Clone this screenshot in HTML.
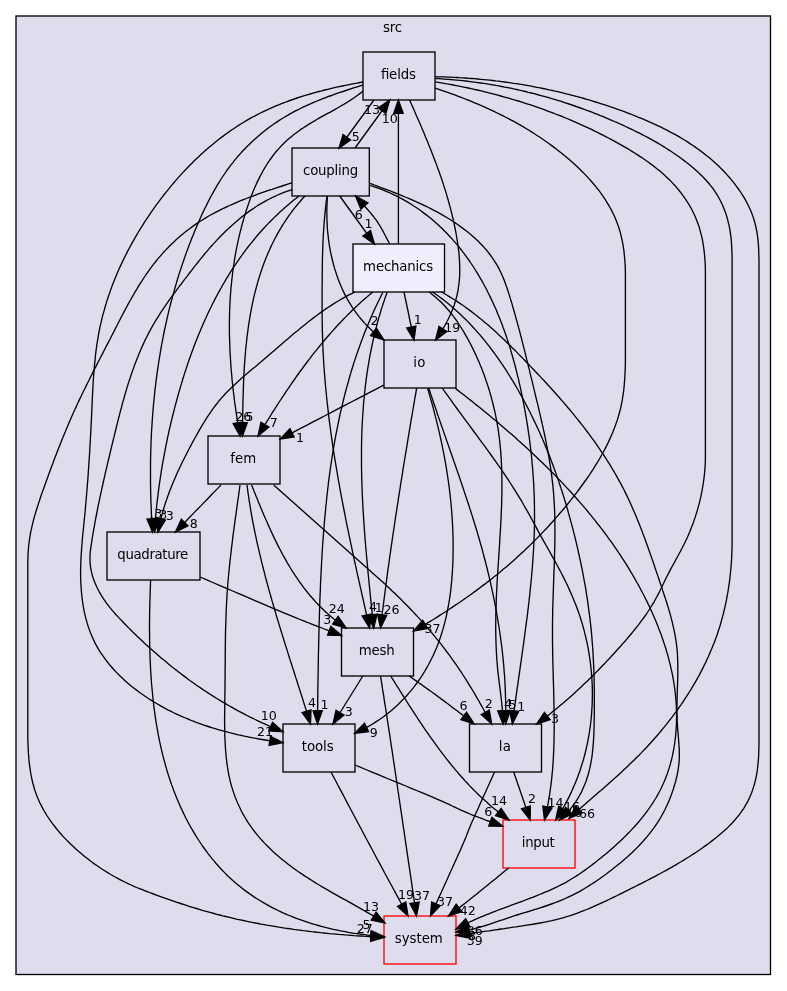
<!DOCTYPE html>
<html><head><meta charset="utf-8"><title>src/mechanics</title>
<style>html,body{margin:0;padding:0;background:#fff}svg{display:block;opacity:0.999;will-change:transform}text{font-family:"DejaVu Sans","Liberation Sans",sans-serif;font-size:13.33px;fill:#000;text-anchor:middle}text.l{font-size:12.6px}</style></head><body>
<svg width="787" height="991" viewBox="0 0 787 991">
<rect x="0" y="0" width="787" height="991" fill="#fff"/>
<rect x="16" y="16" width="754.5" height="958.5" fill="#ddddee" stroke="#000" stroke-width="1.33"/>
<text x="392.5" y="32.0" textLength="19">src</text>
<rect x="363.0" y="52.0" width="72.0" height="48.0" fill="none" stroke="black" stroke-width="1.33"/>
<text x="398.3" y="78.8" textLength="35">fields</text>
<rect x="292.0" y="148.0" width="77.3" height="48.0" fill="none" stroke="black" stroke-width="1.33"/>
<text x="330.6" y="174.8" textLength="55">coupling</text>
<rect x="353.0" y="244.0" width="91.5" height="48.0" fill="#eeeeff" stroke="black" stroke-width="1.33"/>
<text x="398.1" y="270.8" textLength="70">mechanics</text>
<rect x="384.0" y="340.0" width="72.0" height="48.0" fill="none" stroke="black" stroke-width="1.33"/>
<text x="419.3" y="366.8" textLength="12">io</text>
<rect x="208.0" y="436.0" width="72.0" height="48.0" fill="none" stroke="black" stroke-width="1.33"/>
<text x="243.3" y="462.8" textLength="26">fem</text>
<rect x="107.0" y="532.0" width="93.0" height="48.0" fill="none" stroke="black" stroke-width="1.33"/>
<text x="152.8" y="558.8" textLength="71">quadrature</text>
<rect x="341.5" y="628.0" width="72.0" height="48.0" fill="none" stroke="black" stroke-width="1.33"/>
<text x="376.8" y="654.8" textLength="36">mesh</text>
<rect x="283.0" y="724.0" width="72.0" height="48.0" fill="none" stroke="black" stroke-width="1.33"/>
<text x="317.7" y="750.8" textLength="32">tools</text>
<rect x="469.5" y="724.0" width="72.0" height="48.0" fill="none" stroke="black" stroke-width="1.33"/>
<text x="504.8" y="750.8" textLength="12">la</text>
<rect x="503.0" y="820.0" width="72.0" height="48.0" fill="none" stroke="red" stroke-width="1.33"/>
<text x="538.3" y="846.8" textLength="33">input</text>
<rect x="384.0" y="916.0" width="72.0" height="48.0" fill="none" stroke="red" stroke-width="1.33"/>
<text x="418.8" y="942.8" textLength="48">system</text>
<g fill="none" stroke="#000" stroke-width="1.33">
<path d="M374.0,100.0 L371.8,103.0 L369.6,106.0 L367.4,109.0 L365.2,112.0 L363.1,115.0 L360.9,118.0 L358.7,121.0 L356.5,124.0 L354.3,127.0 L352.1,130.0 L349.9,133.0 L347.8,136.0 L346.9,137.2"/>
<path d="M355.0,148.0 L357.2,145.0 L359.4,142.0 L361.5,139.0 L363.7,136.0 L365.9,133.0 L368.1,130.0 L370.2,127.0 L372.4,124.0 L374.6,121.0 L376.8,118.0 L378.9,115.0 L381.1,112.0 L382.0,110.8"/>
<path d="M398.4,244.0 L398.4,235.0 L398.4,226.0 L398.4,217.0 L398.4,208.0 L398.4,199.0 L398.4,190.0 L398.4,181.0 L398.4,172.0 L398.4,163.0 L398.4,154.0 L398.4,145.0 L398.4,136.0 L398.4,127.0 L398.4,118.0 L398.4,113.3"/>
<path d="M409.6,100.0 L410.8,102.8 L412.1,105.6 L413.3,108.3 L414.5,111.1 L415.7,113.9 L416.9,116.7 L418.2,119.5 L419.4,122.3 L420.6,125.1 L421.8,127.9 L423.0,130.7 L424.2,133.6 L425.3,136.4 L426.5,139.2 L427.7,142.1 L428.8,144.9 L430.0,147.7 L431.1,150.6 L432.2,153.4 L433.3,156.3 L434.4,159.2 L435.5,162.0 L436.6,164.9 L437.6,167.8 L438.7,170.7 L439.7,173.5 L440.7,176.4 L441.7,179.3 L442.7,182.2 L443.6,185.1 L444.6,188.1 L445.5,191.0 L446.4,193.9 L447.2,196.8 L448.1,199.8 L448.9,202.7 L449.7,205.7 L450.5,208.6 L451.3,211.6 L452.0,214.6 L452.7,217.5 L453.4,220.5 L454.1,223.5 L454.7,226.5 L455.3,229.5 L455.9,232.5 L456.4,235.5 L456.9,238.5 L457.4,241.6 L457.9,244.6 L458.3,247.6 L458.6,250.7 L459.0,253.7 L459.2,256.8 L459.4,259.8 L459.6,262.8 L459.7,265.9 L459.8,268.9 L459.7,271.9 L459.7,275.0 L459.5,278.0 L459.3,281.0 L458.9,284.0 L458.5,287.0 L458.1,290.0 L457.5,293.0 L456.8,295.9 L456.1,298.9 L455.2,301.8 L454.3,304.8 L453.3,307.7 L452.1,310.5 L450.9,313.4 L449.6,316.2 L448.3,319.0 L446.9,321.8 L445.4,324.5 L443.9,327.2 L442.9,328.9"/>
<path d="M363.0,91.0 L360.7,92.9 L358.3,94.7 L355.9,96.5 L353.4,98.2 L350.9,99.9 L348.4,101.5 L345.8,103.1 L343.2,104.7 L340.5,106.2 L337.9,107.8 L335.2,109.3 L332.5,110.8 L329.9,112.3 L327.2,113.7 L324.5,115.2 L321.8,116.7 L319.1,118.2 L316.4,119.8 L313.8,121.3 L311.2,122.9 L308.6,124.4 L306.0,126.1 L303.4,127.7 L300.9,129.4 L298.5,131.2 L296.0,133.0 L293.6,134.8 L291.3,136.7 L289.0,138.6 L286.8,140.6 L284.6,142.6 L282.5,144.7 L280.4,146.9 L278.4,149.1 L276.4,151.3 L274.5,153.7 L272.7,156.0 L270.9,158.5 L269.2,160.9 L267.5,163.4 L265.9,166.0 L264.3,168.6 L262.8,171.2 L261.4,173.9 L259.9,176.6 L258.6,179.4 L257.2,182.1 L255.9,184.9 L254.7,187.7 L253.5,190.6 L252.3,193.5 L251.2,196.3 L250.1,199.2 L249.1,202.1 L248.1,205.1 L247.1,208.0 L246.1,210.9 L245.2,213.9 L244.3,216.8 L243.5,219.7 L242.6,222.7 L241.8,225.6 L241.1,228.5 L240.3,231.5 L239.6,234.4 L238.9,237.4 L238.2,240.3 L237.6,243.3 L237.0,246.2 L236.4,249.2 L235.8,252.1 L235.3,255.1 L234.8,258.1 L234.3,261.0 L233.9,264.0 L233.4,267.0 L233.0,270.0 L232.6,273.0 L232.3,276.0 L231.9,279.0 L231.6,282.0 L231.3,285.0 L231.0,288.0 L230.8,291.0 L230.5,294.0 L230.3,297.0 L230.1,300.1 L230.0,303.1 L229.8,306.1 L229.7,309.1 L229.6,312.2 L229.5,315.2 L229.5,318.2 L229.4,321.3 L229.4,324.3 L229.4,327.3 L229.4,330.4 L229.4,333.4 L229.5,336.5 L229.6,339.5 L229.7,342.6 L229.8,345.6 L229.9,348.6 L230.0,351.7 L230.2,354.7 L230.4,357.8 L230.6,360.8 L230.8,363.8 L231.0,366.9 L231.2,369.9 L231.5,372.9 L231.8,376.0 L232.0,379.0 L232.3,382.0 L232.7,385.1 L233.0,388.1 L233.3,391.1 L233.7,394.1 L234.1,397.1 L234.4,400.2 L234.8,403.2 L235.3,406.2 L235.7,409.2 L236.1,412.2 L236.6,415.2 L237.0,418.2 L237.5,421.1 L237.8,422.9"/>
<path d="M363.0,85.0 L360.1,85.9 L357.3,86.8 L354.4,87.7 L351.5,88.6 L348.7,89.5 L345.8,90.5 L342.9,91.5 L340.0,92.4 L337.1,93.4 L334.3,94.4 L331.4,95.5 L328.5,96.5 L325.6,97.6 L322.8,98.7 L319.9,99.8 L317.1,101.0 L314.3,102.2 L311.5,103.4 L308.7,104.6 L305.9,105.9 L303.1,107.2 L300.4,108.5 L297.7,109.8 L295.0,111.2 L292.3,112.7 L289.6,114.1 L287.0,115.7 L284.4,117.2 L281.8,118.8 L279.3,120.4 L276.7,122.1 L274.2,123.8 L271.8,125.5 L269.3,127.3 L266.9,129.1 L264.5,131.0 L262.2,132.8 L259.9,134.8 L257.6,136.7 L255.3,138.7 L253.1,140.7 L250.9,142.8 L248.7,144.9 L246.6,147.0 L244.5,149.2 L242.4,151.3 L240.4,153.6 L238.4,155.8 L236.5,158.1 L234.5,160.4 L232.7,162.8 L230.8,165.1 L229.0,167.6 L227.2,170.0 L225.5,172.5 L223.8,175.0 L222.1,177.5 L220.5,180.0 L218.9,182.6 L217.3,185.2 L215.8,187.8 L214.3,190.4 L212.8,193.1 L211.3,195.7 L209.9,198.4 L208.5,201.1 L207.1,203.9 L205.8,206.6 L204.4,209.3 L203.1,212.1 L201.8,214.8 L200.6,217.6 L199.3,220.4 L198.1,223.2 L196.9,226.0 L195.7,228.8 L194.5,231.6 L193.4,234.4 L192.2,237.2 L191.1,240.1 L190.0,242.9 L188.9,245.7 L187.9,248.6 L186.8,251.4 L185.8,254.3 L184.8,257.1 L183.8,260.0 L182.8,262.9 L181.8,265.8 L180.9,268.6 L179.9,271.5 L179.0,274.4 L178.1,277.3 L177.2,280.2 L176.4,283.1 L175.5,286.0 L174.7,288.9 L173.9,291.8 L173.0,294.7 L172.3,297.7 L171.5,300.6 L170.7,303.5 L170.0,306.4 L169.2,309.4 L168.5,312.3 L167.8,315.3 L167.1,318.2 L166.5,321.2 L165.8,324.1 L165.2,327.1 L164.5,330.0 L163.9,333.0 L163.3,336.0 L162.8,338.9 L162.2,341.9 L161.6,344.9 L161.1,347.8 L160.6,350.8 L160.1,353.8 L159.6,356.8 L159.1,359.8 L158.6,362.8 L158.2,365.8 L157.7,368.8 L157.3,371.8 L156.9,374.8 L156.5,377.8 L156.1,380.8 L155.7,383.8 L155.4,386.8 L155.0,389.8 L154.7,392.8 L154.4,395.8 L154.1,398.8 L153.8,401.8 L153.5,404.8 L153.2,407.9 L153.0,410.9 L152.7,413.9 L152.5,416.9 L152.3,420.0 L152.1,423.0 L151.9,426.0 L151.7,429.0 L151.5,432.1 L151.4,435.1 L151.2,438.1 L151.1,441.1 L151.0,444.2 L150.9,447.2 L150.8,450.2 L150.7,453.3 L150.6,456.3 L150.6,459.3 L150.5,462.4 L150.5,465.4 L150.5,468.4 L150.5,471.5 L150.5,474.5 L150.5,477.5 L150.5,480.6 L150.5,483.6 L150.6,486.6 L150.6,489.6 L150.7,492.7 L150.8,495.7 L150.8,498.7 L150.9,501.8 L151.1,504.8 L151.2,507.8 L151.3,510.8 L151.4,513.9 L151.6,516.9 L151.7,518.7"/>
<path d="M363.0,82.0 L360.1,82.5 L357.1,83.1 L354.2,83.6 L351.2,84.2 L348.3,84.8 L345.3,85.4 L342.4,86.0 L339.4,86.6 L336.5,87.2 L333.5,87.9 L330.6,88.6 L327.6,89.3 L324.7,90.0 L321.8,90.8 L318.8,91.5 L315.9,92.3 L313.0,93.1 L310.1,94.0 L307.2,94.8 L304.3,95.7 L301.4,96.6 L298.5,97.5 L295.6,98.5 L292.8,99.5 L289.9,100.5 L287.1,101.5 L284.3,102.6 L281.5,103.7 L278.7,104.8 L275.9,105.9 L273.1,107.1 L270.3,108.3 L267.6,109.6 L264.9,110.8 L262.2,112.2 L259.5,113.5 L256.8,114.9 L254.2,116.3 L251.5,117.7 L248.9,119.2 L246.3,120.7 L243.7,122.2 L241.2,123.8 L238.6,125.4 L236.1,127.0 L233.6,128.7 L231.1,130.3 L228.7,132.1 L226.2,133.8 L223.8,135.6 L221.4,137.4 L219.0,139.2 L216.7,141.1 L214.3,143.0 L212.0,144.9 L209.7,146.8 L207.4,148.8 L205.1,150.8 L202.9,152.8 L200.6,154.8 L198.4,156.9 L196.2,158.9 L194.0,161.0 L191.9,163.2 L189.8,165.3 L187.6,167.5 L185.6,169.7 L183.5,171.9 L181.4,174.1 L179.4,176.4 L177.4,178.6 L175.4,180.9 L173.4,183.2 L171.4,185.6 L169.5,187.9 L167.6,190.3 L165.7,192.6 L163.8,195.0 L162.0,197.4 L160.1,199.8 L158.3,202.3 L156.5,204.7 L154.8,207.2 L153.0,209.7 L151.3,212.1 L149.6,214.7 L147.9,217.2 L146.2,219.7 L144.5,222.2 L142.9,224.8 L141.3,227.3 L139.7,229.9 L138.1,232.5 L136.6,235.1 L135.1,237.7 L133.6,240.3 L132.1,242.9 L130.7,245.6 L129.2,248.2 L127.8,250.9 L126.5,253.6 L125.1,256.2 L123.8,258.9 L122.5,261.6 L121.2,264.4 L119.9,267.1 L118.7,269.8 L117.5,272.6 L116.4,275.3 L115.2,278.1 L114.1,280.9 L113.0,283.6 L111.9,286.4 L110.9,289.3 L109.9,292.1 L108.9,294.9 L108.0,297.7 L107.0,300.6 L106.2,303.4 L105.3,306.3 L104.5,309.2 L103.7,312.1 L102.9,314.9 L102.1,317.8 L101.4,320.8 L100.8,323.7 L100.1,326.6 L99.5,329.5 L98.9,332.5 L98.4,335.4 L97.9,338.4 L97.4,341.4 L96.9,344.4 L96.5,347.3 L96.1,350.3 L95.7,353.3 L95.4,356.3 L95.1,359.4 L94.8,362.4 L94.5,365.4 L94.2,368.4 L94.0,371.4 L93.7,374.5 L93.5,377.5 L93.3,380.5 L93.1,383.6 L93.0,386.6 L92.8,389.7 L92.6,392.7 L92.5,395.7 L92.3,398.8 L92.2,401.8 L92.1,404.8 L91.9,407.9 L91.8,410.9 L91.7,413.9 L91.5,416.9 L91.4,420.0 L91.2,423.0 L91.1,426.0 L90.9,429.0 L90.8,432.0 L90.6,435.0 L90.4,438.0 L90.3,441.0 L90.1,444.0 L89.9,447.0 L89.8,450.0 L89.6,453.0 L89.4,456.0 L89.2,459.0 L89.0,462.0 L88.8,465.0 L88.6,467.9 L88.4,470.9 L88.2,473.9 L88.0,476.9 L87.8,479.9 L87.5,482.9 L87.3,485.9 L87.1,488.8 L86.8,491.8 L86.6,494.8 L86.3,497.8 L86.1,500.8 L85.8,503.8 L85.5,506.8 L85.3,509.8 L85.0,512.7 L84.7,515.7 L84.4,518.7 L84.1,521.7 L83.8,524.7 L83.5,527.7 L83.2,530.7 L82.9,533.8 L82.6,536.8 L82.3,539.8 L82.1,542.8 L81.8,545.8 L81.6,548.8 L81.4,551.9 L81.2,554.9 L81.0,557.9 L80.9,561.0 L80.8,564.0 L80.7,567.0 L80.6,570.1 L80.6,573.2 L80.6,576.2 L80.7,579.3 L80.8,582.3 L81.0,585.4 L81.2,588.4 L81.4,591.4 L81.7,594.5 L82.0,597.5 L82.4,600.5 L82.8,603.5 L83.3,606.5 L83.8,609.4 L84.4,612.4 L85.1,615.3 L85.8,618.2 L86.6,621.1 L87.4,623.9 L88.3,626.8 L89.3,629.6 L90.3,632.3 L91.4,635.1 L92.6,637.8 L93.8,640.4 L95.1,643.1 L96.5,645.7 L98.0,648.3 L99.5,650.8 L101.1,653.3 L102.8,655.7 L104.5,658.2 L106.3,660.5 L108.1,662.9 L110.0,665.2 L112.0,667.5 L114.0,669.7 L116.0,671.9 L118.1,674.1 L120.3,676.2 L122.5,678.3 L124.7,680.4 L127.0,682.4 L129.3,684.4 L131.7,686.4 L134.1,688.3 L136.5,690.1 L139.0,692.0 L141.5,693.8 L144.0,695.5 L146.6,697.3 L149.2,699.0 L151.8,700.6 L154.4,702.2 L157.1,703.8 L159.7,705.4 L162.4,706.9 L165.1,708.3 L167.8,709.8 L170.6,711.1 L173.3,712.5 L176.0,713.8 L178.8,715.1 L181.5,716.3 L184.3,717.5 L187.1,718.7 L189.9,719.9 L192.7,721.0 L195.5,722.0 L198.3,723.1 L201.1,724.1 L203.9,725.1 L206.7,726.0 L209.6,727.0 L212.4,727.9 L215.3,728.7 L218.2,729.6 L221.0,730.4 L223.9,731.2 L226.8,731.9 L229.7,732.7 L232.6,733.4 L235.5,734.1 L238.4,734.8 L241.3,735.4 L244.3,736.1 L247.2,736.7 L250.1,737.3 L253.1,737.9 L256.1,738.4 L259.0,739.0 L262.0,739.5 L265.0,740.0 L268.0,740.5 L269.8,740.8"/>
<path d="M435.2,88.1 L438.1,89.1 L441.0,90.1 L443.9,91.1 L446.8,92.1 L449.7,93.1 L452.6,94.2 L455.5,95.2 L458.3,96.3 L461.2,97.4 L464.0,98.5 L466.8,99.6 L469.6,100.7 L472.4,101.9 L475.2,103.1 L478.0,104.2 L480.8,105.4 L483.6,106.6 L486.3,107.9 L489.1,109.1 L491.8,110.4 L494.5,111.7 L497.3,113.0 L500.0,114.3 L502.7,115.7 L505.3,117.0 L508.0,118.4 L510.7,119.8 L513.3,121.2 L516.0,122.7 L518.6,124.2 L521.2,125.7 L523.8,127.2 L526.4,128.7 L529.0,130.3 L531.5,131.9 L534.1,133.5 L536.6,135.2 L539.2,136.8 L541.7,138.5 L544.2,140.2 L546.7,142.0 L549.2,143.8 L551.7,145.6 L554.1,147.4 L556.6,149.3 L559.0,151.2 L561.4,153.1 L563.8,155.0 L566.2,157.0 L568.6,159.0 L570.9,161.1 L573.3,163.1 L575.6,165.2 L577.8,167.3 L580.1,169.5 L582.3,171.7 L584.5,173.9 L586.6,176.1 L588.7,178.4 L590.8,180.7 L592.8,183.0 L594.8,185.4 L596.7,187.8 L598.6,190.2 L600.5,192.7 L602.2,195.1 L604.0,197.7 L605.6,200.2 L607.2,202.8 L608.8,205.4 L610.3,208.0 L611.7,210.6 L613.0,213.3 L614.3,216.0 L615.5,218.8 L616.6,221.6 L617.7,224.4 L618.7,227.2 L619.6,230.1 L620.4,232.9 L621.1,235.9 L621.8,238.8 L622.4,241.7 L623.0,244.7 L623.4,247.7 L623.9,250.7 L624.2,253.7 L624.5,256.8 L624.8,259.8 L625.0,262.8 L625.2,265.9 L625.3,268.9 L625.4,272.0 L625.4,360.0 L625.4,363.1 L625.3,366.1 L625.2,369.2 L625.1,372.2 L624.9,375.3 L624.8,378.3 L624.5,381.3 L624.3,384.4 L624.0,387.4 L623.7,390.4 L623.3,393.4 L622.8,396.4 L622.4,399.4 L621.8,402.4 L621.2,405.4 L620.6,408.4 L619.8,411.3 L619.0,414.2 L618.2,417.1 L617.3,420.0 L616.3,422.9 L615.3,425.8 L614.2,428.6 L613.1,431.5 L611.9,434.3 L610.7,437.1 L609.4,439.9 L608.1,442.7 L606.8,445.4 L605.4,448.1 L604.0,450.8 L602.5,453.5 L601.0,456.2 L599.5,458.9 L597.9,461.5 L596.3,464.1 L594.7,466.7 L593.1,469.3 L591.4,471.9 L589.7,474.5 L588.0,477.0 L586.2,479.5 L584.4,482.0 L582.6,484.5 L580.8,487.0 L579.0,489.5 L577.2,491.9 L575.3,494.4 L573.4,496.8 L571.5,499.2 L569.6,501.6 L567.7,504.0 L565.8,506.3 L563.8,508.7 L561.9,511.0 L559.9,513.3 L557.9,515.6 L555.9,517.9 L553.9,520.2 L551.9,522.5 L549.8,524.7 L547.8,527.0 L545.7,529.2 L543.6,531.4 L541.5,533.6 L539.4,535.8 L537.3,537.9 L535.1,540.1 L533.0,542.2 L530.8,544.4 L528.7,546.5 L526.5,548.6 L524.3,550.7 L522.0,552.7 L519.8,554.8 L517.6,556.8 L515.3,558.9 L513.1,560.9 L510.8,562.9 L508.5,564.9 L506.2,566.9 L503.8,568.8 L501.5,570.8 L499.2,572.7 L496.8,574.7 L494.4,576.6 L492.1,578.5 L489.7,580.4 L487.2,582.2 L484.8,584.1 L482.4,585.9 L479.9,587.8 L477.5,589.6 L475.0,591.4 L472.6,593.2 L470.1,595.0 L467.6,596.8 L465.1,598.5 L462.6,600.3 L460.1,602.0 L457.6,603.7 L455.0,605.4 L452.5,607.1 L450.0,608.8 L447.4,610.5 L444.9,612.2 L442.3,613.8 L439.7,615.4 L437.1,617.1 L434.5,618.7 L432.0,620.3 L429.4,621.8 L426.7,623.4 L425.1,624.3"/>
<path d="M435.2,81.8 L438.2,82.3 L441.2,82.8 L444.2,83.3 L447.2,83.9 L450.2,84.4 L453.2,85.0 L456.2,85.6 L459.2,86.2 L462.2,86.8 L465.2,87.4 L468.2,88.0 L471.2,88.7 L474.1,89.3 L477.1,90.0 L480.1,90.7 L483.0,91.4 L486.0,92.1 L489.0,92.9 L491.9,93.6 L494.9,94.4 L497.8,95.2 L500.7,96.0 L503.7,96.8 L506.6,97.6 L509.5,98.4 L512.4,99.3 L515.4,100.2 L518.3,101.0 L521.2,101.9 L524.1,102.9 L527.0,103.8 L529.9,104.7 L532.7,105.7 L535.6,106.7 L538.5,107.7 L541.4,108.7 L544.2,109.7 L547.1,110.8 L549.9,111.8 L552.8,112.9 L555.6,114.0 L558.5,115.1 L561.3,116.2 L564.1,117.4 L566.9,118.5 L569.7,119.7 L572.5,120.9 L575.3,122.1 L578.1,123.3 L580.9,124.6 L583.7,125.8 L586.5,127.1 L589.2,128.4 L592.0,129.7 L594.7,131.1 L597.5,132.4 L600.2,133.8 L602.9,135.2 L605.7,136.6 L608.4,138.0 L611.1,139.4 L613.8,140.9 L616.5,142.4 L619.2,143.9 L621.8,145.4 L624.5,146.9 L627.2,148.4 L629.8,150.0 L632.4,151.6 L635.0,153.2 L637.6,154.9 L640.2,156.6 L642.8,158.3 L645.3,160.0 L647.8,161.8 L650.3,163.6 L652.7,165.4 L655.1,167.3 L657.5,169.2 L659.9,171.1 L662.2,173.1 L664.4,175.1 L666.7,177.2 L668.9,179.3 L671.0,181.4 L673.1,183.6 L675.1,185.8 L677.1,188.1 L679.1,190.5 L681.0,192.9 L682.8,195.3 L684.6,197.8 L686.3,200.4 L688.0,203.0 L689.6,205.6 L691.1,208.3 L692.5,211.0 L693.9,213.7 L695.1,216.5 L696.3,219.3 L697.4,222.2 L698.5,225.0 L699.4,227.9 L700.2,230.8 L701.0,233.8 L701.7,236.7 L702.4,239.7 L702.9,242.7 L703.4,245.7 L703.8,248.7 L704.2,251.7 L704.5,254.8 L704.8,257.8 L705.0,260.8 L705.2,263.9 L705.3,266.9 L705.4,270.0 L705.4,458.4 L705.3,461.4 L705.2,464.5 L705.0,467.5 L704.8,470.5 L704.5,473.5 L704.2,476.5 L703.8,479.5 L703.4,482.5 L702.9,485.5 L702.4,488.5 L701.9,491.4 L701.3,494.4 L700.7,497.4 L700.0,500.3 L699.3,503.2 L698.5,506.2 L697.7,509.1 L696.8,512.0 L695.9,514.9 L695.0,517.8 L694.0,520.6 L693.0,523.5 L691.9,526.3 L690.8,529.1 L689.7,531.9 L688.5,534.7 L687.3,537.5 L686.0,540.3 L684.7,543.0 L683.3,545.8 L681.9,548.5 L680.5,551.2 L679.1,553.8 L677.6,556.5 L676.1,559.2 L674.7,561.9 L673.2,564.5 L671.7,567.2 L670.3,569.9 L668.9,572.6 L667.5,575.3 L666.1,578.0 L664.8,580.8 L663.5,583.5 L662.2,586.2 L660.8,589.0 L659.5,591.7 L658.1,594.4 L656.7,597.0 L655.2,599.7 L653.8,602.3 L652.2,604.9 L650.6,607.5 L649.0,610.0 L647.4,612.5 L645.7,615.0 L643.9,617.5 L642.1,619.9 L640.3,622.3 L638.5,624.8 L636.6,627.1 L634.7,629.5 L632.8,631.9 L630.9,634.2 L628.9,636.5 L627.0,638.8 L625.0,641.2 L623.0,643.4 L621.0,645.7 L618.9,648.0 L616.9,650.3 L614.9,652.5 L612.8,654.8 L610.8,657.0 L608.7,659.2 L606.6,661.4 L604.5,663.7 L602.4,665.8 L600.3,668.0 L598.2,670.2 L596.0,672.4 L593.9,674.5 L591.8,676.7 L589.6,678.8 L587.4,680.9 L585.2,683.0 L583.0,685.1 L580.8,687.2 L578.6,689.3 L576.4,691.3 L574.1,693.4 L571.9,695.4 L569.6,697.4 L567.3,699.4 L565.0,701.4 L562.7,703.4 L560.4,705.3 L558.1,707.3 L555.8,709.2 L553.4,711.1 L551.1,713.0 L548.7,714.9 L547.2,716.0"/>
<path d="M435.2,78.5 L438.3,78.7 L441.3,78.9 L444.4,79.1 L447.5,79.3 L450.5,79.5 L453.6,79.8 L456.6,80.1 L459.6,80.4 L462.7,80.7 L465.7,81.0 L468.7,81.4 L471.8,81.8 L474.8,82.2 L477.8,82.6 L480.8,83.0 L483.8,83.4 L486.8,83.9 L489.8,84.4 L492.8,84.9 L495.8,85.4 L498.8,85.9 L501.7,86.5 L504.7,87.1 L507.7,87.6 L510.7,88.2 L513.6,88.9 L516.6,89.5 L519.5,90.2 L522.5,90.8 L525.4,91.5 L528.4,92.3 L531.3,93.0 L534.2,93.7 L537.1,94.5 L540.1,95.3 L543.0,96.1 L545.9,96.9 L548.8,97.7 L551.7,98.6 L554.6,99.4 L557.5,100.3 L560.4,101.2 L563.3,102.1 L566.2,103.1 L569.0,104.0 L571.9,105.0 L574.8,106.0 L577.6,107.0 L580.5,108.0 L583.4,109.0 L586.2,110.1 L589.1,111.1 L591.9,112.2 L594.7,113.3 L597.6,114.4 L600.4,115.6 L603.2,116.7 L606.0,117.9 L608.8,119.1 L611.7,120.3 L614.5,121.5 L617.3,122.7 L620.1,124.0 L622.8,125.2 L625.6,126.5 L628.4,127.8 L631.2,129.1 L634.0,130.5 L636.7,131.8 L639.5,133.2 L642.2,134.6 L644.9,136.0 L647.6,137.4 L650.3,138.9 L653.0,140.4 L655.7,141.9 L658.3,143.4 L661.0,145.0 L663.6,146.6 L666.2,148.2 L668.7,149.9 L671.3,151.5 L673.8,153.2 L676.4,155.0 L678.9,156.7 L681.3,158.5 L683.8,160.4 L686.2,162.2 L688.6,164.1 L690.9,166.1 L693.3,168.1 L695.6,170.1 L697.9,172.1 L700.1,174.2 L702.3,176.3 L704.4,178.5 L706.5,180.7 L708.5,183.0 L710.4,185.3 L712.3,187.7 L714.0,190.1 L715.7,192.6 L717.3,195.1 L718.8,197.7 L720.2,200.3 L721.5,203.0 L722.8,205.7 L723.9,208.5 L725.0,211.3 L726.0,214.1 L726.9,217.0 L727.7,219.9 L728.4,222.8 L729.1,225.7 L729.7,228.7 L730.2,231.7 L730.6,234.7 L731.0,237.7 L731.3,240.8 L731.5,243.8 L731.7,246.8 L731.8,249.9 L732.0,253.0 L732.0,256.0 L732.1,259.1 L732.1,262.1 L732.1,265.2 L732.1,545.0 L732.0,548.0 L731.9,551.1 L731.8,554.1 L731.7,557.1 L731.5,560.1 L731.3,563.2 L731.1,566.2 L730.8,569.2 L730.5,572.2 L730.2,575.2 L729.9,578.3 L729.5,581.3 L729.1,584.3 L728.6,587.3 L728.2,590.2 L727.7,593.2 L727.1,596.2 L726.6,599.2 L726.0,602.1 L725.4,605.1 L724.7,608.1 L724.0,611.0 L723.3,613.9 L722.5,616.9 L721.7,619.8 L720.9,622.7 L720.1,625.6 L719.2,628.5 L718.2,631.3 L717.3,634.2 L716.3,637.0 L715.2,639.9 L714.2,642.7 L713.0,645.5 L711.9,648.3 L710.7,651.1 L709.5,653.9 L708.3,656.7 L707.0,659.4 L705.8,662.2 L704.4,664.9 L703.1,667.6 L701.7,670.4 L700.3,673.1 L698.9,675.7 L697.4,678.4 L695.9,681.1 L694.4,683.7 L692.8,686.3 L691.3,688.9 L689.7,691.5 L688.0,694.1 L686.4,696.7 L684.7,699.2 L683.0,701.8 L681.3,704.3 L679.5,706.8 L677.8,709.3 L676.0,711.8 L674.2,714.2 L672.4,716.7 L670.5,719.1 L668.6,721.5 L666.8,723.9 L664.8,726.3 L662.9,728.7 L661.0,731.0 L659.0,733.4 L657.0,735.7 L655.0,738.0 L653.0,740.3 L651.0,742.5 L648.9,744.8 L646.9,747.0 L644.8,749.2 L642.7,751.4 L640.6,753.6 L638.5,755.7 L636.3,757.8 L634.2,760.0 L632.0,762.1 L629.9,764.1 L627.7,766.2 L625.5,768.3 L623.3,770.3 L621.1,772.4 L618.9,774.4 L616.7,776.4 L614.4,778.4 L612.2,780.4 L609.9,782.4 L607.7,784.4 L605.4,786.4 L603.2,788.4 L600.9,790.4 L598.6,792.3 L596.4,794.3 L594.1,796.3 L591.8,798.3 L589.5,800.3 L587.2,802.3 L585.0,804.3 L582.7,806.3 L580.4,808.3 L578.9,809.6"/>
<path d="M435.2,76.7 L438.3,76.8 L441.3,76.9 L444.4,76.9 L447.4,77.1 L450.5,77.2 L453.5,77.3 L456.5,77.5 L459.6,77.7 L462.6,77.8 L465.6,78.0 L468.6,78.3 L471.7,78.5 L474.7,78.7 L477.7,79.0 L480.7,79.3 L483.7,79.6 L486.7,79.9 L489.7,80.2 L492.7,80.5 L495.7,80.9 L498.7,81.2 L501.7,81.6 L504.6,82.0 L507.6,82.4 L510.6,82.8 L513.6,83.3 L516.5,83.7 L519.5,84.2 L522.5,84.7 L525.4,85.2 L528.4,85.7 L531.3,86.2 L534.3,86.8 L537.2,87.4 L540.2,87.9 L543.1,88.5 L546.1,89.1 L549.0,89.8 L551.9,90.4 L554.9,91.1 L557.8,91.7 L560.7,92.4 L563.6,93.1 L566.5,93.9 L569.5,94.6 L572.4,95.4 L575.3,96.1 L578.2,96.9 L581.1,97.7 L584.0,98.5 L586.9,99.4 L589.8,100.2 L592.7,101.1 L595.6,102.0 L598.5,102.9 L601.4,103.8 L604.2,104.7 L607.1,105.7 L610.0,106.7 L612.9,107.6 L615.8,108.6 L618.6,109.7 L621.5,110.7 L624.4,111.7 L627.2,112.8 L630.1,113.9 L632.9,115.0 L635.8,116.1 L638.6,117.3 L641.5,118.4 L644.3,119.6 L647.1,120.8 L649.9,122.1 L652.7,123.3 L655.5,124.6 L658.2,125.9 L661.0,127.2 L663.7,128.6 L666.4,129.9 L669.1,131.3 L671.8,132.8 L674.5,134.2 L677.1,135.7 L679.7,137.2 L682.4,138.8 L684.9,140.3 L687.5,141.9 L690.0,143.6 L692.5,145.2 L695.0,146.9 L697.5,148.7 L699.9,150.4 L702.3,152.2 L704.7,154.1 L707.1,155.9 L709.4,157.8 L711.7,159.8 L713.9,161.8 L716.1,163.8 L718.3,165.8 L720.5,167.9 L722.6,170.0 L724.7,172.2 L726.7,174.4 L728.7,176.7 L730.7,178.9 L732.6,181.3 L734.5,183.7 L736.3,186.1 L738.1,188.5 L739.9,191.0 L741.5,193.5 L743.2,196.1 L744.7,198.7 L746.2,201.4 L747.6,204.0 L748.9,206.7 L750.2,209.5 L751.4,212.2 L752.4,215.0 L753.4,217.9 L754.3,220.7 L755.1,223.6 L755.8,226.5 L756.4,229.4 L757.0,232.4 L757.4,235.4 L757.8,238.4 L758.1,241.4 L758.4,244.4 L758.6,247.4 L758.7,250.4 L758.8,253.5 L758.9,256.5 L759.0,259.6 L759.0,262.6 L759.0,732.0 L759.0,735.1 L759.0,738.1 L759.0,741.2 L759.0,744.3 L758.9,747.4 L758.8,750.4 L758.7,753.5 L758.6,756.6 L758.4,759.6 L758.1,762.7 L757.8,765.7 L757.5,768.7 L757.1,771.7 L756.6,774.7 L756.0,777.7 L755.3,780.7 L754.6,783.6 L753.7,786.5 L752.8,789.4 L751.8,792.2 L750.7,795.0 L749.5,797.7 L748.2,800.4 L746.8,803.1 L745.3,805.7 L743.8,808.3 L742.1,810.7 L740.4,813.2 L738.5,815.6 L736.6,817.9 L734.7,820.2 L732.6,822.5 L730.5,824.7 L728.4,826.9 L726.2,829.0 L723.9,831.1 L721.6,833.1 L719.3,835.1 L716.9,837.1 L714.5,839.0 L712.0,840.9 L709.6,842.8 L707.1,844.6 L704.5,846.4 L702.0,848.2 L699.5,850.0 L696.9,851.7 L694.4,853.4 L691.8,855.0 L689.2,856.7 L686.6,858.3 L684.1,859.9 L681.5,861.5 L678.8,863.0 L676.2,864.6 L673.6,866.1 L671.0,867.6 L668.3,869.1 L665.7,870.6 L663.0,872.0 L660.4,873.5 L657.7,874.9 L655.1,876.3 L652.4,877.7 L649.7,879.1 L647.0,880.5 L644.3,881.9 L641.6,883.3 L638.9,884.6 L636.2,886.0 L633.5,887.4 L630.8,888.7 L628.1,890.1 L625.4,891.4 L622.6,892.8 L619.9,894.1 L617.2,895.5 L614.4,896.8 L611.7,898.2 L608.9,899.5 L606.2,900.8 L603.4,902.1 L600.6,903.4 L597.8,904.7 L595.1,905.9 L592.3,907.1 L589.5,908.3 L586.7,909.5 L583.8,910.6 L581.0,911.7 L578.2,912.8 L575.3,913.9 L572.5,914.8 L569.6,915.8 L566.7,916.7 L563.8,917.6 L560.9,918.4 L558.0,919.2 L555.1,919.9 L552.1,920.6 L549.2,921.2 L546.2,921.8 L543.2,922.4 L540.2,923.0 L537.2,923.5 L534.3,924.0 L531.3,924.5 L528.2,924.9 L525.2,925.4 L522.2,925.9 L519.2,926.3 L516.2,926.8 L513.2,927.2 L510.2,927.7 L507.2,928.1 L504.2,928.6 L501.1,929.0 L498.1,929.5 L495.1,929.9 L492.1,930.3 L489.1,930.8 L486.1,931.2 L483.1,931.6 L480.0,932.1 L477.0,932.5 L474.0,932.9 L471.0,933.4 L469.2,933.6"/>
<path d="M339.7,196.0 L341.9,199.0 L344.1,202.0 L346.2,205.0 L348.4,208.0 L350.6,211.0 L352.8,214.0 L354.9,217.0 L357.1,220.0 L359.3,223.0 L361.4,226.0 L363.6,229.0 L365.8,232.0 L366.7,233.2"/>
<path d="M389.8,244.0 L389.0,242.5 L388.2,241.1 L387.4,239.6 L386.6,238.2 L385.9,236.7 L385.1,235.2 L384.3,233.8 L383.6,232.3 L382.8,230.8 L382.0,229.4 L381.1,227.9 L380.3,226.5 L379.4,225.0 L378.5,223.6 L377.6,222.1 L376.6,220.7 L375.5,219.1 L374.3,217.6 L373.1,216.0 L371.8,214.5 L370.5,212.9 L369.2,211.4 L367.8,209.8 L366.5,208.3 L365.1,206.8 L364.4,205.9"/>
<path d="M327.5,196.0 L327.3,199.1 L327.1,202.1 L327.0,205.2 L326.9,208.3 L326.8,211.4 L326.9,214.5 L326.9,217.6 L327.0,220.7 L327.1,223.9 L327.3,227.0 L327.5,230.1 L327.8,233.2 L328.2,236.3 L328.5,239.5 L329.0,242.6 L329.4,245.7 L330.0,248.8 L330.5,251.9 L331.2,254.9 L331.9,258.0 L332.6,261.0 L333.4,264.1 L334.2,267.1 L335.1,270.1 L336.1,273.0 L337.1,276.0 L338.1,278.9 L339.2,281.8 L340.4,284.7 L341.6,287.5 L342.9,290.4 L344.2,293.1 L345.6,295.9 L347.1,298.6 L348.6,301.3 L350.2,303.9 L351.8,306.5 L353.5,309.1 L355.3,311.6 L357.1,314.1 L359.0,316.6 L361.0,319.0 L363.0,321.3 L365.0,323.6 L367.2,325.8 L369.4,328.0 L371.7,330.2 L373.5,331.8"/>
<path d="M327.0,196.0 L326.6,199.0 L326.2,202.0 L325.8,205.0 L325.5,208.0 L325.2,211.1 L324.9,214.1 L324.6,217.1 L324.4,220.1 L324.1,223.1 L323.9,226.2 L323.7,229.2 L323.5,232.2 L323.3,235.2 L323.2,238.2 L323.0,241.3 L322.9,244.3 L322.8,247.3 L322.7,250.4 L322.6,253.4 L322.5,256.4 L322.4,259.4 L322.4,262.5 L322.3,265.5 L322.3,268.5 L322.3,271.6 L322.2,274.6 L322.2,277.6 L322.2,280.7 L322.2,283.7 L322.1,286.7 L322.1,289.8 L322.1,292.8 L322.1,295.8 L322.1,298.9 L322.1,301.9 L322.1,304.9 L322.1,308.0 L322.1,311.0 L322.1,314.0 L322.1,317.1 L322.2,320.1 L322.2,323.2 L322.3,326.2 L322.3,329.2 L322.4,332.3 L322.5,335.3 L322.6,338.3 L322.7,341.3 L322.8,344.4 L322.9,347.4 L323.0,350.4 L323.2,353.4 L323.4,356.5 L323.5,359.5 L323.7,362.5 L323.9,365.5 L324.1,368.6 L324.3,371.6 L324.6,374.6 L324.8,377.6 L325.1,380.6 L325.3,383.6 L325.6,386.7 L325.9,389.7 L326.2,392.7 L326.5,395.7 L326.8,398.7 L327.1,401.7 L327.4,404.7 L327.8,407.7 L328.1,410.7 L328.5,413.8 L328.8,416.8 L329.2,419.8 L329.6,422.8 L330.0,425.8 L330.4,428.8 L330.8,431.8 L331.2,434.8 L331.6,437.8 L332.1,440.8 L332.5,443.8 L332.9,446.8 L333.4,449.8 L333.9,452.8 L334.3,455.7 L334.8,458.7 L335.3,461.7 L335.8,464.7 L336.3,467.7 L336.8,470.7 L337.3,473.7 L337.8,476.7 L338.3,479.7 L338.9,482.7 L339.4,485.6 L339.9,488.6 L340.5,491.6 L341.0,494.6 L341.6,497.6 L342.2,500.6 L342.7,503.5 L343.3,506.5 L343.9,509.5 L344.5,512.5 L345.1,515.4 L345.6,518.4 L346.2,521.4 L346.8,524.4 L347.4,527.3 L348.1,530.3 L348.7,533.3 L349.3,536.3 L349.9,539.2 L350.5,542.2 L351.2,545.2 L351.8,548.1 L352.4,551.1 L353.1,554.1 L353.7,557.0 L354.3,560.0 L355.0,563.0 L355.6,565.9 L356.3,568.9 L356.9,571.9 L357.6,574.8 L358.3,577.8 L358.9,580.7 L359.6,583.7 L360.2,586.7 L360.9,589.6 L361.6,592.6 L362.2,595.5 L362.9,598.5 L363.6,601.4 L364.2,604.4 L364.9,607.3 L365.6,610.3 L366.2,613.3 L366.6,615.0"/>
<path d="M305.0,196.0 L302.8,198.3 L300.7,200.7 L298.7,203.1 L296.7,205.5 L294.7,207.9 L292.8,210.4 L291.0,212.8 L289.1,215.3 L287.4,217.9 L285.7,220.4 L284.0,223.0 L282.3,225.6 L280.8,228.2 L279.2,230.8 L277.7,233.4 L276.3,236.1 L274.8,238.8 L273.5,241.5 L272.1,244.2 L270.8,246.9 L269.6,249.7 L268.3,252.4 L267.2,255.2 L266.0,258.0 L264.9,260.8 L263.8,263.7 L262.8,266.5 L261.8,269.4 L260.8,272.2 L259.9,275.1 L259.0,278.0 L258.1,280.9 L257.3,283.9 L256.5,286.8 L255.7,289.7 L254.9,292.7 L254.2,295.7 L253.5,298.6 L252.9,301.6 L252.2,304.6 L251.6,307.6 L251.1,310.6 L250.5,313.6 L250.0,316.7 L249.5,319.7 L249.0,322.7 L248.5,325.8 L248.1,328.8 L247.7,331.9 L247.3,334.9 L246.9,338.0 L246.6,341.1 L246.3,344.2 L245.9,347.2 L245.6,350.3 L245.4,353.4 L245.1,356.5 L244.9,359.6 L244.7,362.7 L244.4,365.7 L244.2,368.8 L244.1,371.9 L243.9,375.0 L243.7,378.1 L243.6,381.2 L243.5,384.3 L243.4,387.3 L243.3,390.4 L243.2,393.5 L243.1,396.6 L243.0,399.6 L242.9,402.7 L242.9,405.8 L242.8,408.8 L242.7,411.9 L242.7,414.9 L242.7,417.9 L242.6,421.0 L242.6,422.7"/>
<path d="M299.0,196.0 L296.6,197.9 L294.1,199.8 L291.7,201.8 L289.4,203.7 L287.1,205.7 L284.7,207.7 L282.5,209.8 L280.2,211.8 L278.0,213.9 L275.8,216.0 L273.6,218.1 L271.5,220.3 L269.3,222.4 L267.2,224.6 L265.2,226.8 L263.1,229.0 L261.1,231.3 L259.1,233.5 L257.1,235.8 L255.2,238.1 L253.3,240.5 L251.4,242.8 L249.5,245.2 L247.6,247.5 L245.8,249.9 L244.0,252.3 L242.2,254.8 L240.5,257.2 L238.8,259.7 L237.0,262.2 L235.4,264.7 L233.7,267.2 L232.0,269.7 L230.4,272.2 L228.8,274.8 L227.2,277.4 L225.7,279.9 L224.2,282.5 L222.6,285.2 L221.2,287.8 L219.7,290.4 L218.2,293.1 L216.8,295.7 L215.4,298.4 L214.0,301.1 L212.6,303.8 L211.3,306.5 L209.9,309.2 L208.6,312.0 L207.3,314.7 L206.1,317.5 L204.8,320.2 L203.6,323.0 L202.4,325.8 L201.2,328.6 L200.0,331.4 L198.8,334.2 L197.7,337.0 L196.5,339.9 L195.4,342.7 L194.3,345.6 L193.3,348.4 L192.2,351.3 L191.2,354.1 L190.1,357.0 L189.1,359.9 L188.1,362.8 L187.1,365.7 L186.2,368.6 L185.2,371.5 L184.3,374.4 L183.4,377.3 L182.5,380.2 L181.6,383.1 L180.7,386.1 L179.9,389.0 L179.0,391.9 L178.2,394.9 L177.4,397.8 L176.6,400.7 L175.8,403.7 L175.0,406.6 L174.2,409.6 L173.5,412.5 L172.7,415.5 L172.0,418.4 L171.3,421.4 L170.6,424.3 L169.9,427.3 L169.2,430.2 L168.6,433.2 L167.9,436.2 L167.3,439.1 L166.7,442.1 L166.1,445.1 L165.5,448.0 L164.9,451.0 L164.4,454.0 L163.8,457.0 L163.3,459.9 L162.7,462.9 L162.2,465.9 L161.7,468.9 L161.2,471.9 L160.8,474.9 L160.3,477.8 L159.9,480.8 L159.4,483.8 L159.0,486.8 L158.6,489.8 L158.2,492.8 L157.9,495.8 L157.5,498.8 L157.1,501.8 L156.8,504.8 L156.5,507.8 L156.2,510.9 L155.9,513.9 L155.6,516.9 L155.4,518.7"/>
<path d="M292.0,189.6 L289.1,190.6 L286.1,191.6 L283.3,192.7 L280.4,193.8 L277.6,195.0 L274.8,196.3 L272.1,197.6 L269.4,199.0 L266.7,200.4 L264.1,201.9 L261.4,203.4 L258.9,204.9 L256.3,206.5 L253.8,208.2 L251.3,209.9 L248.8,211.6 L246.4,213.4 L244.0,215.2 L241.6,217.1 L239.3,219.0 L237.0,220.9 L234.7,222.9 L232.4,224.9 L230.2,226.9 L228.0,229.0 L225.8,231.0 L223.6,233.2 L221.5,235.3 L219.4,237.5 L217.3,239.6 L215.3,241.9 L213.2,244.1 L211.2,246.3 L209.2,248.6 L207.3,250.9 L205.3,253.2 L203.4,255.5 L201.5,257.8 L199.6,260.1 L197.8,262.5 L195.9,264.9 L194.0,267.2 L192.2,269.6 L190.3,272.0 L188.5,274.4 L186.7,276.8 L184.8,279.2 L183.0,281.6 L181.2,284.0 L179.3,286.4 L177.5,288.9 L175.7,291.3 L173.9,293.8 L172.1,296.2 L170.3,298.7 L168.5,301.2 L166.8,303.6 L165.1,306.1 L163.4,308.7 L161.7,311.2 L160.0,313.7 L158.4,316.3 L156.8,318.8 L155.2,321.4 L153.7,324.0 L152.2,326.6 L150.7,329.3 L149.3,331.9 L147.9,334.6 L146.6,337.2 L145.2,339.9 L144.0,342.6 L142.7,345.4 L141.5,348.1 L140.3,350.9 L139.1,353.6 L138.0,356.4 L136.9,359.2 L135.8,362.0 L134.7,364.8 L133.7,367.6 L132.7,370.4 L131.7,373.3 L130.7,376.1 L129.8,379.0 L128.8,381.9 L127.9,384.7 L127.0,387.6 L126.2,390.5 L125.3,393.4 L124.5,396.3 L123.7,399.2 L122.8,402.1 L122.0,405.1 L121.3,408.0 L120.5,410.9 L119.7,413.9 L119.0,416.8 L118.2,419.7 L117.5,422.7 L116.7,425.6 L116.0,428.6 L115.3,431.5 L114.6,434.4 L113.9,437.4 L113.1,440.3 L112.4,443.3 L111.7,446.2 L111.0,449.2 L110.3,452.1 L109.6,455.0 L108.9,458.0 L108.2,460.9 L107.5,463.9 L106.8,466.8 L106.1,469.8 L105.4,472.7 L104.8,475.6 L104.1,478.6 L103.4,481.5 L102.8,484.5 L102.1,487.4 L101.5,490.4 L100.8,493.3 L100.2,496.3 L99.6,499.2 L99.0,502.2 L98.3,505.1 L97.7,508.1 L97.2,511.1 L96.6,514.0 L96.0,517.0 L95.4,520.0 L94.9,522.9 L94.4,525.9 L93.8,528.9 L93.3,531.9 L92.8,534.8 L92.3,537.8 L91.8,540.8 L91.4,543.8 L90.9,546.8 L90.5,549.8 L90.2,552.8 L90.0,555.8 L90.0,558.8 L90.0,561.7 L90.3,564.7 L90.6,567.6 L91.2,570.5 L91.8,573.4 L92.6,576.2 L93.5,579.0 L94.5,581.8 L95.7,584.6 L96.9,587.3 L98.3,590.0 L99.7,592.7 L101.3,595.3 L102.9,597.9 L104.6,600.4 L106.3,602.9 L108.2,605.3 L110.0,607.7 L112.0,610.1 L114.0,612.4 L116.0,614.7 L118.1,616.9 L120.2,619.1 L122.3,621.3 L124.4,623.5 L126.5,625.7 L128.7,627.9 L130.8,630.0 L133.0,632.2 L135.2,634.3 L137.4,636.4 L139.6,638.5 L141.8,640.6 L144.0,642.7 L146.2,644.7 L148.5,646.8 L150.7,648.8 L153.0,650.8 L155.3,652.8 L157.5,654.8 L159.8,656.8 L162.1,658.7 L164.5,660.6 L166.8,662.6 L169.1,664.5 L171.5,666.4 L173.8,668.3 L176.2,670.1 L178.6,672.0 L181.0,673.8 L183.4,675.6 L185.8,677.4 L188.2,679.2 L190.6,681.0 L193.1,682.7 L195.5,684.5 L198.0,686.2 L200.5,687.9 L203.0,689.6 L205.5,691.2 L208.0,692.9 L210.5,694.5 L213.1,696.1 L215.6,697.7 L218.2,699.3 L220.7,700.9 L223.3,702.4 L225.9,703.9 L228.5,705.5 L231.1,706.9 L233.7,708.4 L236.4,709.9 L239.0,711.3 L241.7,712.7 L244.4,714.1 L247.0,715.5 L249.7,716.9 L252.4,718.2 L255.2,719.5 L257.9,720.8 L260.6,722.1 L263.4,723.4 L266.2,724.6 L268.9,725.9 L270.7,726.6"/>
<path d="M292.0,182.8 L289.2,183.7 L286.4,184.6 L283.5,185.5 L280.7,186.5 L277.8,187.4 L275.0,188.3 L272.1,189.3 L269.2,190.2 L266.4,191.2 L263.5,192.2 L260.6,193.2 L257.8,194.2 L254.9,195.3 L252.1,196.3 L249.2,197.4 L246.4,198.5 L243.5,199.6 L240.7,200.7 L237.9,201.9 L235.1,203.1 L232.3,204.3 L229.5,205.5 L226.7,206.8 L224.0,208.1 L221.3,209.4 L218.5,210.8 L215.9,212.1 L213.2,213.6 L210.5,215.0 L207.9,216.5 L205.3,218.1 L202.7,219.7 L200.2,221.3 L197.7,222.9 L195.2,224.6 L192.7,226.4 L190.3,228.2 L187.9,230.0 L185.5,231.8 L183.2,233.7 L180.9,235.6 L178.6,237.6 L176.3,239.6 L174.1,241.7 L171.9,243.7 L169.8,245.8 L167.7,248.0 L165.6,250.1 L163.6,252.3 L161.6,254.6 L159.6,256.9 L157.6,259.1 L155.8,261.5 L153.9,263.8 L152.1,266.2 L150.3,268.6 L148.5,271.1 L146.8,273.5 L145.1,276.0 L143.4,278.5 L141.8,281.1 L140.1,283.6 L138.5,286.2 L137.0,288.8 L135.4,291.4 L133.9,294.0 L132.4,296.6 L130.9,299.3 L129.4,301.9 L127.9,304.6 L126.5,307.3 L125.1,309.9 L123.6,312.6 L122.2,315.3 L120.8,318.0 L119.4,320.7 L118.0,323.5 L116.6,326.2 L115.2,328.9 L113.9,331.6 L112.5,334.3 L111.1,337.0 L109.7,339.7 L108.3,342.4 L106.9,345.1 L105.5,347.8 L104.1,350.5 L102.8,353.1 L101.4,355.8 L100.0,358.5 L98.6,361.2 L97.2,363.9 L95.9,366.6 L94.5,369.2 L93.1,371.9 L91.8,374.6 L90.4,377.3 L89.1,380.0 L87.7,382.7 L86.4,385.4 L85.1,388.1 L83.7,390.8 L82.4,393.5 L81.1,396.2 L79.8,398.9 L78.5,401.6 L77.3,404.3 L76.0,407.1 L74.8,409.8 L73.5,412.5 L72.3,415.3 L71.1,418.1 L69.9,420.8 L68.7,423.6 L67.5,426.4 L66.3,429.2 L65.2,431.9 L64.0,434.7 L62.9,437.5 L61.7,440.3 L60.6,443.2 L59.5,446.0 L58.4,448.8 L57.3,451.6 L56.2,454.5 L55.1,457.3 L54.0,460.1 L53.0,463.0 L51.9,465.8 L50.8,468.7 L49.8,471.5 L48.7,474.4 L47.7,477.2 L46.7,480.1 L45.6,483.0 L44.6,485.8 L43.6,488.7 L42.5,491.6 L41.5,494.4 L40.5,497.3 L39.6,500.2 L38.6,503.1 L37.7,506.0 L36.8,508.8 L35.9,511.7 L35.0,514.6 L34.2,517.5 L33.4,520.5 L32.7,523.4 L32.0,526.3 L31.4,529.2 L30.7,532.2 L30.2,535.1 L29.7,538.1 L29.3,541.0 L28.9,544.0 L28.6,547.0 L28.3,550.0 L28.1,553.0 L28.0,556.0 L27.9,559.0 L27.8,562.0 L27.8,735.0 L27.8,738.0 L27.9,741.1 L28.0,744.1 L28.1,747.2 L28.3,750.2 L28.4,753.2 L28.7,756.2 L28.9,759.3 L29.2,762.3 L29.6,765.3 L30.0,768.2 L30.4,771.2 L30.9,774.2 L31.5,777.1 L32.1,780.0 L32.8,783.0 L33.6,785.8 L34.4,788.7 L35.3,791.6 L36.3,794.4 L37.4,797.2 L38.6,799.9 L39.8,802.7 L41.2,805.4 L42.6,808.1 L44.0,810.7 L45.6,813.4 L47.2,816.0 L48.9,818.5 L50.7,821.1 L52.5,823.6 L54.4,826.0 L56.3,828.5 L58.3,830.9 L60.3,833.2 L62.4,835.6 L64.5,837.9 L66.7,840.1 L68.9,842.3 L71.1,844.5 L73.3,846.6 L75.6,848.7 L77.9,850.8 L80.3,852.8 L82.6,854.8 L85.0,856.7 L87.4,858.6 L89.8,860.5 L92.2,862.3 L94.7,864.1 L97.2,865.8 L99.7,867.5 L102.2,869.2 L104.7,870.8 L107.3,872.4 L109.9,874.0 L112.5,875.5 L115.1,877.0 L117.7,878.4 L120.4,879.8 L123.1,881.2 L125.8,882.5 L128.5,883.8 L131.2,885.0 L133.9,886.3 L136.7,887.5 L139.5,888.6 L142.3,889.7 L145.1,890.8 L147.9,891.9 L150.7,893.0 L153.5,894.0 L156.4,895.1 L159.2,896.1 L162.0,897.1 L164.9,898.1 L167.7,899.1 L170.6,900.1 L173.5,901.1 L176.3,902.1 L179.2,903.0 L182.1,904.0 L185.0,904.9 L187.8,905.9 L190.7,906.8 L193.6,907.7 L196.5,908.5 L199.4,909.4 L202.3,910.3 L205.2,911.1 L208.1,911.9 L211.1,912.7 L214.0,913.5 L216.9,914.3 L219.8,915.0 L222.8,915.8 L225.7,916.5 L228.6,917.2 L231.6,917.9 L234.5,918.6 L237.4,919.3 L240.4,919.9 L243.3,920.5 L246.3,921.2 L249.3,921.8 L252.2,922.4 L255.2,923.0 L258.1,923.5 L261.1,924.1 L264.1,924.6 L267.0,925.2 L270.0,925.7 L273.0,926.2 L276.0,926.7 L278.9,927.2 L281.9,927.6 L284.9,928.1 L287.9,928.5 L290.9,928.9 L293.9,929.4 L296.9,929.8 L299.9,930.2 L302.9,930.6 L305.9,930.9 L308.9,931.3 L311.9,931.7 L314.9,932.0 L317.9,932.3 L320.9,932.7 L323.9,933.0 L326.9,933.3 L329.9,933.6 L332.9,933.8 L335.9,934.1 L338.9,934.4 L341.9,934.6 L345.0,934.9 L348.0,935.1 L351.0,935.3 L354.0,935.6 L357.0,935.8 L360.0,936.0 L363.1,936.2 L366.1,936.3 L369.1,936.5 L370.9,936.6"/>
<path d="M370.0,185.3 L373.0,186.3 L375.9,187.3 L378.8,188.3 L381.7,189.4 L384.6,190.6 L387.4,191.8 L390.2,193.0 L393.0,194.3 L395.7,195.6 L398.4,197.0 L401.1,198.4 L403.8,199.9 L406.4,201.4 L409.0,202.9 L411.6,204.5 L414.1,206.2 L416.6,207.8 L419.1,209.5 L421.5,211.3 L423.9,213.1 L426.3,214.9 L428.7,216.7 L431.0,218.6 L433.3,220.6 L435.5,222.5 L437.8,224.5 L439.9,226.5 L442.1,228.6 L444.2,230.7 L446.3,232.8 L448.4,235.0 L450.5,237.2 L452.5,239.4 L454.4,241.6 L456.4,243.9 L458.3,246.2 L460.2,248.5 L462.0,250.9 L463.8,253.2 L465.6,255.7 L467.4,258.1 L469.1,260.5 L470.8,263.0 L472.5,265.5 L474.1,268.0 L475.7,270.5 L477.3,273.1 L478.8,275.7 L480.4,278.3 L481.9,280.9 L483.3,283.5 L484.8,286.2 L486.2,288.8 L487.5,291.5 L488.9,294.2 L490.2,296.9 L491.5,299.6 L492.8,302.3 L494.0,305.1 L495.3,307.8 L496.5,310.6 L497.6,313.4 L498.8,316.2 L499.9,319.0 L501.0,321.8 L502.1,324.6 L503.1,327.5 L504.2,330.3 L505.2,333.2 L506.2,336.0 L507.1,338.9 L508.1,341.8 L509.0,344.6 L509.9,347.5 L510.8,350.4 L511.6,353.3 L512.5,356.3 L513.3,359.2 L514.1,362.1 L514.9,365.0 L515.7,368.0 L516.4,370.9 L517.1,373.8 L517.9,376.8 L518.6,379.7 L519.2,382.7 L519.9,385.7 L520.6,388.6 L521.2,391.6 L521.8,394.5 L522.5,397.5 L523.0,400.5 L523.6,403.4 L524.2,406.4 L524.7,409.4 L525.3,412.4 L525.8,415.3 L526.3,418.3 L526.8,421.3 L527.3,424.3 L527.8,427.3 L528.2,430.3 L528.6,433.2 L529.1,436.2 L529.5,439.2 L529.8,442.2 L530.2,445.2 L530.6,448.2 L530.9,451.2 L531.3,454.2 L531.6,457.2 L531.9,460.2 L532.1,463.2 L532.4,466.2 L532.7,469.2 L532.9,472.2 L533.1,475.2 L533.3,478.2 L533.5,481.2 L533.7,484.2 L533.8,487.2 L534.0,490.2 L534.1,493.2 L534.2,496.2 L534.3,499.2 L534.4,502.2 L534.4,505.2 L534.5,508.2 L534.5,511.2 L534.5,514.2 L534.5,517.2 L534.5,520.2 L534.5,523.2 L534.4,526.3 L534.4,529.3 L534.3,532.3 L534.2,535.3 L534.1,538.3 L534.0,541.3 L533.8,544.3 L533.7,547.3 L533.5,550.3 L533.3,553.3 L533.1,556.3 L532.9,559.3 L532.7,562.3 L532.5,565.3 L532.3,568.3 L532.0,571.3 L531.7,574.3 L531.5,577.3 L531.2,580.3 L530.9,583.3 L530.6,586.3 L530.3,589.3 L530.0,592.4 L529.7,595.4 L529.3,598.4 L529.0,601.4 L528.6,604.4 L528.3,607.4 L527.9,610.4 L527.6,613.4 L527.2,616.4 L526.8,619.4 L526.4,622.4 L526.0,625.4 L525.6,628.4 L525.2,631.3 L524.8,634.3 L524.4,637.3 L524.0,640.3 L523.6,643.3 L523.2,646.3 L522.8,649.3 L522.3,652.3 L521.9,655.3 L521.5,658.3 L521.1,661.3 L520.6,664.3 L520.2,667.3 L519.8,670.3 L519.4,673.3 L518.9,676.3 L518.5,679.2 L518.1,682.2 L517.7,685.2 L517.2,688.2 L516.8,691.2 L516.4,694.2 L516.0,697.2 L515.6,700.1 L515.2,703.1 L514.7,706.1 L514.3,709.1 L514.1,710.8"/>
<path d="M370.0,183.4 L372.8,184.4 L375.6,185.5 L378.4,186.5 L381.2,187.6 L384.0,188.6 L386.8,189.7 L389.6,190.7 L392.4,191.8 L395.2,192.9 L398.0,194.0 L400.8,195.2 L403.6,196.3 L406.4,197.5 L409.2,198.6 L412.0,199.8 L414.8,201.1 L417.5,202.3 L420.3,203.6 L423.0,204.9 L425.8,206.2 L428.5,207.5 L431.2,208.9 L433.9,210.3 L436.6,211.7 L439.2,213.2 L441.9,214.6 L444.5,216.2 L447.1,217.7 L449.7,219.3 L452.3,221.0 L454.8,222.6 L457.3,224.3 L459.8,226.1 L462.3,227.9 L464.7,229.7 L467.1,231.6 L469.5,233.5 L471.8,235.4 L474.1,237.4 L476.3,239.5 L478.5,241.5 L480.6,243.7 L482.6,245.8 L484.7,248.1 L486.6,250.3 L488.5,252.6 L490.3,255.0 L492.0,257.4 L493.7,259.8 L495.3,262.3 L496.9,264.8 L498.3,267.4 L499.7,270.1 L501.0,272.7 L502.2,275.4 L503.4,278.2 L504.5,281.0 L505.5,283.8 L506.5,286.6 L507.5,289.5 L508.4,292.4 L509.4,295.3 L510.2,298.1 L511.1,301.0 L512.0,303.9 L512.8,306.8 L513.7,309.8 L514.5,312.7 L515.3,315.6 L516.1,318.5 L516.9,321.4 L517.7,324.3 L518.5,327.2 L519.3,330.2 L520.1,333.1 L520.8,336.0 L521.6,338.9 L522.3,341.8 L523.1,344.8 L523.8,347.7 L524.6,350.6 L525.3,353.6 L526.0,356.5 L526.7,359.4 L527.5,362.3 L528.2,365.3 L528.9,368.2 L529.6,371.1 L530.3,374.1 L531.0,377.0 L531.8,379.9 L532.5,382.9 L533.2,385.8 L533.9,388.7 L534.6,391.7 L535.3,394.6 L536.0,397.5 L536.7,400.5 L537.5,403.4 L538.2,406.3 L538.9,409.3 L539.5,412.2 L540.2,415.2 L540.9,418.1 L541.6,421.0 L542.2,424.0 L542.9,426.9 L543.5,429.9 L544.2,432.8 L544.8,435.8 L545.4,438.7 L546.0,441.6 L546.6,444.6 L547.1,447.5 L547.7,450.5 L548.2,453.5 L548.8,456.4 L549.3,459.4 L549.7,462.3 L550.2,465.3 L550.7,468.3 L551.1,471.2 L551.5,474.2 L551.9,477.2 L552.2,480.2 L552.6,483.1 L552.9,486.1 L553.2,489.1 L553.5,492.1 L553.7,495.1 L553.9,498.1 L554.1,501.1 L554.3,504.1 L554.4,507.1 L554.6,510.1 L554.7,513.1 L554.8,516.1 L554.8,519.1 L554.9,522.1 L554.9,525.2 L554.9,528.2 L555.0,531.2 L554.9,534.2 L554.9,537.2 L554.9,540.3 L554.8,543.3 L554.8,546.3 L554.7,549.3 L554.6,552.4 L554.5,555.4 L554.5,558.4 L554.4,561.5 L554.3,564.5 L554.2,567.5 L554.0,570.5 L553.9,573.6 L553.8,576.6 L553.7,579.6 L553.6,582.6 L553.5,585.7 L553.4,588.7 L553.3,591.7 L553.2,594.7 L553.1,597.8 L553.0,600.8 L552.9,603.8 L552.8,606.8 L552.7,609.8 L552.7,612.8 L552.6,615.8 L552.6,618.9 L552.5,621.9 L552.5,624.9 L552.5,627.9 L552.5,630.9 L552.5,633.9 L552.5,636.9 L552.5,639.9 L552.5,642.9 L552.6,645.9 L552.6,648.9 L552.7,651.9 L552.7,654.9 L552.8,657.9 L552.8,661.0 L552.9,664.0 L553.0,667.0 L553.1,670.0 L553.2,673.0 L553.2,676.0 L553.3,679.0 L553.4,682.1 L553.5,685.1 L553.6,688.1 L553.7,691.1 L553.7,694.1 L553.8,697.2 L553.9,700.2 L553.9,703.2 L554.0,706.2 L554.0,709.2 L554.1,712.2 L554.1,715.3 L554.2,718.3 L554.2,721.3 L554.2,724.3 L554.2,727.3 L554.2,730.3 L554.1,733.3 L554.1,736.4 L554.0,739.4 L554.0,742.4 L553.9,745.4 L553.8,748.4 L553.7,751.4 L553.5,754.4 L553.4,757.4 L553.2,760.4 L553.0,763.4 L552.8,766.4 L552.6,769.4 L552.3,772.4 L552.0,775.4 L551.7,778.4 L551.4,781.4 L551.0,784.4 L550.6,787.3 L550.2,790.3 L549.8,793.3 L549.3,796.3 L548.8,799.3 L548.3,802.2 L547.8,805.2 L547.4,807.0"/>
<path d="M404.0,292.0 L404.6,295.0 L405.2,298.0 L405.9,301.0 L406.5,304.0 L407.1,307.0 L407.8,310.0 L408.4,313.0 L409.0,316.0 L409.6,319.0 L410.2,322.0 L410.9,325.0 L411.3,327.0"/>
<path d="M372.8,292.0 L370.4,294.0 L368.1,296.0 L365.7,298.0 L363.4,300.0 L361.1,302.1 L358.8,304.2 L356.6,306.3 L354.3,308.4 L352.1,310.5 L349.9,312.7 L347.7,314.9 L345.5,317.1 L343.4,319.3 L341.3,321.5 L339.1,323.7 L337.0,326.0 L335.0,328.3 L332.9,330.6 L330.9,332.9 L328.8,335.2 L326.8,337.5 L324.8,339.8 L322.8,342.2 L320.9,344.6 L318.9,347.0 L317.0,349.4 L315.0,351.8 L313.1,354.2 L311.2,356.6 L309.4,359.1 L307.5,361.5 L305.6,364.0 L303.8,366.5 L302.0,369.0 L300.1,371.5 L298.3,374.0 L296.5,376.5 L294.8,379.0 L293.0,381.5 L291.2,384.1 L289.5,386.6 L287.8,389.2 L286.0,391.7 L284.3,394.3 L282.6,396.9 L280.9,399.5 L279.2,402.0 L277.5,404.6 L275.9,407.2 L274.2,409.8 L272.5,412.4 L270.9,415.0 L269.3,417.7 L267.6,420.3 L266.0,422.9 L264.9,424.6"/>
<path d="M355.0,292.0 L352.2,293.4 L349.4,294.7 L346.7,296.2 L344.0,297.7 L341.3,299.2 L338.7,300.7 L336.1,302.3 L333.5,303.9 L330.9,305.6 L328.4,307.2 L325.8,308.9 L323.3,310.7 L320.9,312.4 L318.4,314.2 L316.0,316.0 L313.5,317.9 L311.1,319.7 L308.7,321.6 L306.3,323.5 L303.9,325.4 L301.6,327.3 L299.2,329.2 L296.9,331.2 L294.5,333.1 L292.2,335.1 L289.9,337.1 L287.6,339.0 L285.2,341.0 L282.9,343.0 L280.6,345.0 L278.3,347.0 L276.0,349.0 L273.7,351.0 L271.3,353.0 L269.0,355.0 L266.7,357.0 L264.3,359.0 L262.0,360.9 L259.6,362.9 L257.3,364.9 L255.0,366.9 L252.6,368.8 L250.3,370.8 L248.0,372.8 L245.6,374.8 L243.3,376.8 L241.0,378.8 L238.8,380.8 L236.5,382.9 L234.3,385.0 L232.1,387.0 L229.9,389.2 L227.7,391.3 L225.6,393.5 L223.6,395.7 L221.6,397.9 L219.6,400.2 L217.7,402.6 L215.8,405.0 L214.0,407.4 L212.2,409.8 L210.5,412.3 L208.8,414.8 L207.1,417.4 L205.5,419.9 L203.9,422.5 L202.3,425.1 L200.7,427.8 L199.2,430.4 L197.7,433.1 L196.2,435.8 L194.7,438.5 L193.2,441.1 L191.8,443.8 L190.3,446.6 L188.9,449.3 L187.5,452.0 L186.1,454.7 L184.7,457.5 L183.3,460.2 L181.9,463.0 L180.6,465.7 L179.3,468.5 L178.0,471.3 L176.7,474.1 L175.5,476.9 L174.3,479.7 L173.1,482.5 L171.9,485.4 L170.8,488.2 L169.7,491.0 L168.6,493.9 L167.6,496.8 L166.6,499.6 L165.6,502.5 L164.7,505.4 L163.8,508.3 L162.9,511.3 L162.1,514.2 L161.3,517.1 L160.8,519.0"/>
<path d="M383.0,292.0 L381.6,294.7 L380.3,297.5 L378.9,300.2 L377.6,303.0 L376.3,305.7 L375.0,308.5 L373.7,311.2 L372.5,314.0 L371.3,316.8 L370.1,319.6 L368.9,322.4 L367.7,325.2 L366.6,328.0 L365.4,330.8 L364.3,333.6 L363.2,336.4 L362.2,339.2 L361.1,342.0 L360.1,344.9 L359.1,347.7 L358.1,350.5 L357.1,353.4 L356.1,356.2 L355.2,359.1 L354.2,361.9 L353.3,364.8 L352.4,367.7 L351.5,370.5 L350.7,373.4 L349.8,376.3 L349.0,379.2 L348.2,382.1 L347.4,385.0 L346.6,387.9 L345.8,390.8 L345.0,393.7 L344.3,396.6 L343.6,399.5 L342.9,402.4 L342.2,405.3 L341.5,408.3 L340.8,411.2 L340.1,414.1 L339.5,417.1 L338.9,420.0 L338.3,422.9 L337.7,425.9 L337.1,428.8 L336.5,431.8 L335.9,434.7 L335.4,437.7 L334.8,440.7 L334.3,443.6 L333.8,446.6 L333.3,449.6 L332.8,452.5 L332.3,455.5 L331.9,458.5 L331.4,461.5 L331.0,464.5 L330.5,467.4 L330.1,470.4 L329.7,473.4 L329.3,476.4 L328.9,479.4 L328.5,482.4 L328.2,485.4 L327.8,488.4 L327.5,491.4 L327.1,494.4 L326.8,497.4 L326.5,500.4 L326.2,503.4 L325.8,506.4 L325.6,509.4 L325.3,512.5 L325.0,515.5 L324.7,518.5 L324.5,521.5 L324.2,524.5 L324.0,527.5 L323.7,530.6 L323.5,533.6 L323.3,536.6 L323.0,539.6 L322.8,542.7 L322.6,545.7 L322.4,548.7 L322.2,551.7 L322.0,554.8 L321.9,557.8 L321.7,560.8 L321.5,563.9 L321.4,566.9 L321.2,569.9 L321.1,572.9 L320.9,576.0 L320.8,579.0 L320.6,582.0 L320.5,585.1 L320.4,588.1 L320.3,591.1 L320.1,594.2 L320.0,597.2 L319.9,600.2 L319.8,603.2 L319.7,606.3 L319.6,609.3 L319.5,612.3 L319.4,615.4 L319.3,618.4 L319.2,621.4 L319.1,624.4 L319.1,627.5 L319.0,630.5 L318.9,633.5 L318.8,636.5 L318.8,639.6 L318.7,642.6 L318.6,645.6 L318.6,648.6 L318.5,651.6 L318.4,654.7 L318.4,657.7 L318.3,660.7 L318.3,663.7 L318.2,666.7 L318.2,669.8 L318.1,672.8 L318.1,675.8 L318.0,678.8 L318.0,681.8 L317.9,684.8 L317.9,687.8 L317.8,690.9 L317.8,693.9 L317.8,696.9 L317.7,699.9 L317.7,702.9 L317.7,705.9 L317.6,708.9 L317.6,710.7"/>
<path d="M387.2,292.0 L386.2,294.9 L385.1,297.8 L384.2,300.7 L383.2,303.5 L382.3,306.4 L381.3,309.3 L380.5,312.3 L379.6,315.2 L378.7,318.1 L377.9,321.0 L377.1,323.9 L376.4,326.9 L375.6,329.8 L374.9,332.7 L374.2,335.7 L373.5,338.6 L372.8,341.6 L372.2,344.5 L371.6,347.5 L371.0,350.4 L370.4,353.4 L369.8,356.3 L369.3,359.3 L368.8,362.3 L368.3,365.3 L367.8,368.2 L367.4,371.2 L366.9,374.2 L366.5,377.2 L366.1,380.2 L365.7,383.2 L365.4,386.2 L365.0,389.1 L364.7,392.1 L364.4,395.2 L364.1,398.2 L363.8,401.2 L363.5,404.2 L363.3,407.2 L363.1,410.2 L362.9,413.2 L362.7,416.2 L362.5,419.2 L362.3,422.3 L362.2,425.3 L362.0,428.3 L361.9,431.3 L361.8,434.4 L361.7,437.4 L361.6,440.4 L361.6,443.4 L361.5,446.5 L361.5,449.5 L361.5,452.5 L361.5,455.6 L361.5,458.6 L361.5,461.7 L361.5,464.7 L361.5,467.7 L361.6,470.8 L361.6,473.8 L361.7,476.8 L361.8,479.9 L361.9,482.9 L362.0,486.0 L362.1,489.0 L362.2,492.1 L362.3,495.1 L362.5,498.1 L362.6,501.2 L362.8,504.2 L362.9,507.3 L363.1,510.3 L363.3,513.3 L363.5,516.4 L363.7,519.4 L363.9,522.5 L364.1,525.5 L364.3,528.5 L364.5,531.6 L364.8,534.6 L365.0,537.7 L365.2,540.7 L365.5,543.7 L365.7,546.8 L366.0,549.8 L366.3,552.8 L366.5,555.9 L366.8,558.9 L367.1,561.9 L367.4,564.9 L367.6,568.0 L367.9,571.0 L368.2,574.0 L368.5,577.0 L368.8,580.0 L369.1,583.1 L369.4,586.1 L369.7,589.1 L370.0,592.1 L370.3,595.1 L370.6,598.1 L370.9,601.1 L371.2,604.1 L371.5,607.1 L371.9,610.1 L372.2,613.1 L372.3,614.7"/>
<path d="M429.2,292.0 L431.7,293.9 L434.1,295.9 L436.5,297.9 L438.7,300.0 L441.0,302.1 L443.1,304.3 L445.2,306.5 L447.2,308.7 L449.2,311.0 L451.1,313.3 L452.9,315.7 L454.7,318.1 L456.5,320.5 L458.2,323.0 L459.8,325.5 L461.4,328.0 L463.0,330.6 L464.5,333.2 L466.0,335.8 L467.5,338.4 L468.9,341.1 L470.4,343.7 L471.7,346.4 L473.1,349.1 L474.4,351.9 L475.7,354.6 L477.0,357.4 L478.2,360.2 L479.4,363.0 L480.5,365.8 L481.7,368.6 L482.8,371.5 L483.9,374.3 L484.9,377.2 L485.9,380.1 L486.9,383.0 L487.9,385.9 L488.8,388.8 L489.7,391.7 L490.5,394.7 L491.4,397.6 L492.1,400.6 L492.9,403.5 L493.6,406.5 L494.3,409.5 L495.0,412.4 L495.6,415.4 L496.2,418.4 L496.8,421.4 L497.3,424.4 L497.8,427.4 L498.3,430.4 L498.7,433.4 L499.1,436.4 L499.5,439.4 L499.8,442.4 L500.1,445.4 L500.4,448.4 L500.7,451.4 L500.9,454.4 L501.1,457.5 L501.3,460.5 L501.4,463.5 L501.6,466.5 L501.7,469.5 L501.8,472.5 L501.8,475.6 L501.9,478.6 L501.9,481.6 L501.9,484.6 L501.9,487.7 L501.9,490.7 L501.9,493.7 L501.8,496.8 L501.7,499.8 L501.7,502.8 L501.6,505.9 L501.4,508.9 L501.3,511.9 L501.2,515.0 L501.1,518.0 L500.9,521.0 L500.7,524.1 L500.6,527.1 L500.4,530.1 L500.2,533.2 L500.0,536.2 L499.8,539.2 L499.7,542.3 L499.5,545.3 L499.3,548.4 L499.1,551.4 L498.9,554.4 L498.7,557.5 L498.5,560.5 L498.3,563.5 L498.1,566.6 L497.9,569.6 L497.7,572.6 L497.5,575.7 L497.3,578.7 L497.1,581.7 L497.0,584.7 L496.8,587.8 L496.7,590.8 L496.5,593.8 L496.4,596.9 L496.3,599.9 L496.2,602.9 L496.1,605.9 L496.0,609.0 L495.9,612.0 L495.8,615.0 L495.8,618.1 L495.8,621.1 L495.7,624.1 L495.7,627.1 L495.7,630.2 L495.8,633.2 L495.8,636.2 L495.9,639.2 L496.0,642.3 L496.1,645.3 L496.2,648.3 L496.4,651.4 L496.5,654.4 L496.7,657.4 L496.9,660.4 L497.2,663.5 L497.4,666.5 L497.7,669.5 L498.0,672.6 L498.4,675.6 L498.7,678.6 L499.1,681.7 L499.5,684.7 L499.9,687.7 L500.3,690.8 L500.7,693.8 L501.0,696.8 L501.4,699.9 L501.7,702.9 L502.0,705.9 L502.3,708.9 L502.4,710.7"/>
<path d="M432.6,292.0 L435.1,293.7 L437.6,295.5 L440.0,297.3 L442.5,299.1 L444.8,300.9 L447.2,302.8 L449.6,304.7 L451.9,306.7 L454.1,308.7 L456.4,310.7 L458.6,312.7 L460.8,314.8 L463.0,316.9 L465.2,319.0 L467.3,321.1 L469.4,323.3 L471.5,325.5 L473.5,327.7 L475.5,329.9 L477.5,332.2 L479.5,334.4 L481.5,336.8 L483.4,339.1 L485.3,341.4 L487.2,343.8 L489.1,346.2 L490.9,348.6 L492.7,351.0 L494.5,353.4 L496.3,355.9 L498.1,358.3 L499.8,360.8 L501.5,363.3 L503.2,365.9 L504.9,368.4 L506.5,370.9 L508.1,373.5 L509.7,376.0 L511.3,378.6 L512.9,381.2 L514.5,383.8 L516.0,386.4 L517.5,389.0 L519.0,391.7 L520.5,394.3 L522.0,397.0 L523.4,399.6 L524.8,402.3 L526.2,404.9 L527.6,407.6 L529.0,410.3 L530.4,413.0 L531.7,415.7 L533.0,418.4 L534.3,421.1 L535.6,423.8 L536.9,426.6 L538.2,429.3 L539.4,432.1 L540.6,434.8 L541.9,437.6 L543.0,440.3 L544.2,443.1 L545.4,445.9 L546.5,448.7 L547.7,451.5 L548.8,454.3 L549.9,457.1 L551.0,459.9 L552.0,462.7 L553.1,465.6 L554.1,468.4 L555.2,471.2 L556.2,474.1 L557.2,476.9 L558.2,479.8 L559.1,482.6 L560.1,485.5 L561.0,488.4 L562.0,491.2 L562.9,494.1 L563.8,497.0 L564.7,499.9 L565.6,502.8 L566.4,505.7 L567.3,508.6 L568.1,511.5 L568.9,514.4 L569.7,517.3 L570.5,520.2 L571.3,523.1 L572.1,526.1 L572.9,529.0 L573.6,531.9 L574.4,534.9 L575.1,537.8 L575.8,540.7 L576.5,543.7 L577.2,546.6 L577.9,549.6 L578.5,552.5 L579.2,555.5 L579.8,558.5 L580.5,561.4 L581.1,564.4 L581.7,567.4 L582.3,570.3 L582.9,573.3 L583.4,576.3 L584.0,579.3 L584.5,582.2 L585.1,585.2 L585.6,588.2 L586.1,591.2 L586.5,594.2 L587.0,597.2 L587.5,600.1 L587.9,603.1 L588.3,606.1 L588.7,609.1 L589.1,612.1 L589.5,615.1 L589.9,618.1 L590.2,621.1 L590.6,624.1 L590.9,627.1 L591.2,630.1 L591.5,633.1 L591.8,636.1 L592.0,639.1 L592.2,642.1 L592.5,645.1 L592.7,648.1 L592.9,651.1 L593.1,654.1 L593.2,657.1 L593.4,660.1 L593.5,663.1 L593.7,666.2 L593.8,669.2 L593.9,672.2 L594.0,675.2 L594.1,678.2 L594.1,681.2 L594.2,684.2 L594.2,687.3 L594.3,690.3 L594.3,693.3 L594.3,696.3 L594.3,699.4 L594.3,702.4 L594.3,705.4 L594.3,708.5 L594.3,711.5 L594.3,714.5 L594.2,717.6 L594.2,720.6 L594.1,723.7 L594.1,726.7 L594.0,729.8 L593.9,732.8 L593.8,735.8 L593.6,738.9 L593.4,741.9 L593.2,744.9 L592.9,747.9 L592.6,750.9 L592.3,753.9 L591.9,756.9 L591.4,759.9 L590.9,762.8 L590.3,765.8 L589.7,768.7 L589.0,771.6 L588.2,774.5 L587.3,777.3 L586.4,780.2 L585.4,783.0 L584.2,785.8 L583.0,788.5 L581.8,791.2 L580.4,793.9 L578.9,796.6 L577.4,799.2 L575.8,801.7 L574.0,804.2 L572.2,806.6 L570.3,809.0 L568.9,810.7"/>
<path d="M441.4,292.0 L444.1,293.5 L446.7,295.0 L449.3,296.6 L451.9,298.2 L454.5,299.8 L457.0,301.4 L459.5,303.1 L462.0,304.8 L464.5,306.5 L466.9,308.3 L469.4,310.1 L471.8,311.9 L474.1,313.7 L476.5,315.5 L478.8,317.4 L481.2,319.3 L483.5,321.2 L485.8,323.2 L488.1,325.1 L490.3,327.1 L492.6,329.1 L494.8,331.1 L497.0,333.1 L499.2,335.2 L501.4,337.2 L503.6,339.3 L505.8,341.4 L507.9,343.4 L510.1,345.5 L512.2,347.7 L514.4,349.8 L516.5,351.9 L518.6,354.1 L520.7,356.2 L522.8,358.4 L524.9,360.5 L527.0,362.7 L529.1,364.9 L531.2,367.1 L533.3,369.3 L535.4,371.5 L537.5,373.7 L539.6,375.9 L541.6,378.1 L543.7,380.3 L545.8,382.5 L547.8,384.8 L549.9,387.0 L551.9,389.2 L553.9,391.5 L555.9,393.7 L557.9,396.0 L559.9,398.3 L561.9,400.6 L563.9,402.9 L565.9,405.2 L567.8,407.5 L569.8,409.8 L571.7,412.1 L573.6,414.4 L575.5,416.8 L577.4,419.1 L579.3,421.5 L581.2,423.9 L583.0,426.2 L584.9,428.6 L586.7,431.0 L588.5,433.4 L590.3,435.9 L592.1,438.3 L593.9,440.7 L595.6,443.2 L597.3,445.6 L599.0,448.1 L600.7,450.6 L602.4,453.1 L604.1,455.6 L605.7,458.1 L607.3,460.6 L608.9,463.2 L610.5,465.7 L612.0,468.3 L613.6,470.9 L615.1,473.5 L616.6,476.1 L618.0,478.7 L619.5,481.3 L620.9,483.9 L622.3,486.6 L623.7,489.3 L625.0,491.9 L626.3,494.6 L627.6,497.3 L628.9,500.0 L630.2,502.8 L631.4,505.5 L632.6,508.3 L633.8,511.0 L635.0,513.8 L636.2,516.6 L637.3,519.4 L638.5,522.2 L639.6,525.0 L640.7,527.8 L641.8,530.6 L642.8,533.4 L643.9,536.3 L645.0,539.1 L646.0,542.0 L647.0,544.8 L648.1,547.7 L649.1,550.5 L650.1,553.4 L651.1,556.3 L652.1,559.1 L653.1,562.0 L654.1,564.9 L655.0,567.8 L656.0,570.6 L657.0,573.5 L658.0,576.4 L659.0,579.3 L659.9,582.2 L660.9,585.0 L661.9,587.9 L662.8,590.8 L663.8,593.7 L664.7,596.5 L665.7,599.4 L666.6,602.3 L667.5,605.2 L668.4,608.1 L669.2,611.0 L670.1,613.9 L670.9,616.8 L671.6,619.7 L672.4,622.6 L673.0,625.5 L673.7,628.4 L674.3,631.3 L674.9,634.3 L675.4,637.2 L675.9,640.2 L676.3,643.1 L676.7,646.1 L677.0,649.0 L677.3,652.0 L677.5,655.0 L677.6,658.0 L677.7,661.0 L677.8,664.0 L677.8,667.0 L677.8,670.0 L677.8,673.1 L677.8,676.1 L677.7,679.1 L677.6,682.2 L677.5,685.2 L677.4,688.2 L677.3,691.3 L677.2,694.3 L677.1,697.3 L677.1,700.4 L677.0,703.4 L677.0,706.4 L676.9,709.5 L676.9,712.5 L677.0,715.5 L677.1,718.5 L677.2,721.6 L677.4,724.6 L677.6,727.6 L677.8,730.6 L678.1,733.5 L678.3,736.5 L678.6,739.5 L678.8,742.5 L679.0,745.5 L679.2,748.4 L679.3,751.4 L679.3,754.4 L679.3,757.3 L679.2,760.3 L679.0,763.3 L678.6,766.2 L678.2,769.2 L677.7,772.1 L677.1,775.1 L676.4,778.0 L675.7,781.0 L674.9,783.9 L674.0,786.8 L673.1,789.7 L672.1,792.6 L671.1,795.5 L670.0,798.3 L668.8,801.2 L667.6,804.0 L666.3,806.7 L665.0,809.5 L663.6,812.2 L662.2,814.8 L660.7,817.5 L659.1,820.1 L657.5,822.6 L655.8,825.1 L654.1,827.6 L652.3,830.0 L650.5,832.4 L648.7,834.7 L646.7,837.1 L644.8,839.3 L642.8,841.6 L640.8,843.8 L638.7,846.0 L636.6,848.1 L634.4,850.3 L632.2,852.4 L630.0,854.4 L627.8,856.5 L625.5,858.5 L623.2,860.4 L620.9,862.4 L618.6,864.3 L616.2,866.2 L613.9,868.1 L611.5,870.0 L609.1,871.8 L606.6,873.7 L604.2,875.5 L601.7,877.2 L599.3,879.0 L596.8,880.7 L594.3,882.4 L591.8,884.0 L589.2,885.6 L586.7,887.2 L584.1,888.8 L581.5,890.3 L578.9,891.8 L576.2,893.2 L573.6,894.6 L570.9,895.9 L568.2,897.2 L565.4,898.5 L562.7,899.7 L559.9,900.8 L557.1,901.9 L554.3,903.0 L551.5,904.0 L548.6,905.0 L545.8,906.0 L542.9,907.0 L540.0,907.9 L537.2,908.8 L534.3,909.7 L531.4,910.6 L528.5,911.5 L525.6,912.3 L522.7,913.2 L519.8,914.1 L516.9,915.0 L514.0,915.9 L511.2,916.9 L508.3,917.8 L505.4,918.8 L502.6,919.8 L499.7,920.7 L496.9,921.7 L494.1,922.7 L491.2,923.6 L488.4,924.6 L485.5,925.5 L482.6,926.4 L479.7,927.2 L476.8,928.0 L473.9,928.8 L471.0,929.5 L469.2,929.9"/>
<path d="M383.6,385.2 L377.1,388.6 L370.7,391.9 L364.2,395.3 L357.8,398.6 L351.3,402.0 L344.8,405.4 L338.4,408.7 L331.9,412.1 L325.4,415.5 L319.0,418.8 L312.5,422.2 L306.1,425.6 L299.6,428.9 L293.1,432.3 L292.0,432.8"/>
<path d="M416.6,388.3 L416.1,391.3 L415.6,394.3 L415.0,397.4 L414.5,400.4 L414.0,403.4 L413.5,406.4 L413.0,409.5 L412.5,412.5 L412.0,415.5 L411.4,418.6 L410.9,421.6 L410.4,424.6 L409.9,427.6 L409.4,430.7 L408.9,433.7 L408.4,436.7 L407.9,439.7 L407.4,442.8 L406.9,445.8 L406.4,448.8 L405.9,451.9 L405.4,454.9 L404.9,457.9 L404.4,460.9 L403.9,464.0 L403.4,467.0 L402.9,470.0 L402.5,473.1 L402.0,476.1 L401.5,479.1 L401.0,482.1 L400.5,485.2 L400.1,488.2 L399.6,491.2 L399.1,494.3 L398.6,497.3 L398.2,500.3 L397.7,503.4 L397.2,506.4 L396.8,509.4 L396.3,512.5 L395.8,515.5 L395.4,518.5 L394.9,521.6 L394.5,524.6 L394.0,527.6 L393.6,530.7 L393.1,533.7 L392.7,536.7 L392.2,539.8 L391.8,542.8 L391.3,545.9 L390.9,548.9 L390.5,551.9 L390.0,555.0 L389.6,558.0 L389.2,561.0 L388.8,564.1 L388.3,567.1 L387.9,570.2 L387.5,573.2 L387.1,576.2 L386.7,579.3 L386.3,582.3 L385.9,585.4 L385.5,588.4 L385.1,591.5 L384.7,594.5 L384.3,597.5 L383.9,600.6 L383.5,603.6 L383.1,606.7 L382.7,609.7 L382.3,612.8 L382.1,614.8"/>
<path d="M427.6,388.3 L428.5,391.2 L429.3,394.1 L430.1,397.0 L431.0,399.9 L431.8,402.8 L432.6,405.7 L433.4,408.6 L434.1,411.6 L434.9,414.5 L435.6,417.4 L436.4,420.3 L437.1,423.3 L437.8,426.2 L438.5,429.2 L439.2,432.1 L439.9,435.1 L440.5,438.0 L441.2,441.0 L441.8,443.9 L442.4,446.9 L443.0,449.9 L443.6,452.9 L444.2,455.8 L444.7,458.8 L445.3,461.8 L445.8,464.8 L446.3,467.8 L446.8,470.8 L447.2,473.8 L447.7,476.7 L448.1,479.7 L448.6,482.8 L449.0,485.8 L449.4,488.8 L449.7,491.8 L450.1,494.8 L450.4,497.8 L450.7,500.8 L451.0,503.8 L451.3,506.9 L451.6,509.9 L451.8,512.9 L452.0,515.9 L452.2,519.0 L452.4,522.0 L452.6,525.0 L452.7,528.1 L452.8,531.1 L452.9,534.1 L453.0,537.2 L453.1,540.2 L453.1,543.3 L453.1,546.3 L453.1,549.4 L453.1,552.4 L453.0,555.5 L453.0,558.5 L452.9,561.6 L452.8,564.6 L452.6,567.7 L452.4,570.7 L452.3,573.8 L452.0,576.8 L451.8,579.8 L451.5,582.9 L451.2,585.9 L450.9,588.9 L450.5,592.0 L450.1,595.0 L449.7,598.0 L449.2,601.0 L448.7,604.0 L448.2,607.0 L447.6,610.0 L447.0,612.9 L446.4,615.9 L445.7,618.8 L445.0,621.7 L444.2,624.7 L443.4,627.6 L442.6,630.4 L441.7,633.3 L440.8,636.2 L439.8,639.0 L438.8,641.8 L437.8,644.6 L436.7,647.4 L435.5,650.2 L434.3,652.9 L433.1,655.6 L431.8,658.3 L430.4,661.0 L429.0,663.7 L427.6,666.3 L426.1,668.9 L424.6,671.5 L423.0,674.1 L421.4,676.6 L419.7,679.1 L418.0,681.5 L416.2,684.0 L414.4,686.4 L412.5,688.8 L410.6,691.1 L408.6,693.4 L406.6,695.7 L404.6,697.9 L402.5,700.1 L400.3,702.2 L398.2,704.4 L395.9,706.4 L393.7,708.5 L391.4,710.5 L389.0,712.4 L386.6,714.3 L384.2,716.2 L381.7,718.0 L379.2,719.7 L376.6,721.4 L374.0,723.1 L371.3,724.7 L368.6,726.3 L366.6,727.4"/>
<path d="M428.8,388.3 L429.8,391.2 L430.7,394.1 L431.7,396.9 L432.7,399.8 L433.6,402.7 L434.6,405.5 L435.6,408.4 L436.6,411.3 L437.5,414.2 L438.5,417.0 L439.5,419.9 L440.5,422.8 L441.5,425.7 L442.5,428.5 L443.5,431.4 L444.5,434.3 L445.5,437.1 L446.5,440.0 L447.5,442.9 L448.5,445.8 L449.5,448.6 L450.5,451.5 L451.5,454.4 L452.5,457.2 L453.5,460.1 L454.5,463.0 L455.5,465.9 L456.5,468.7 L457.5,471.6 L458.5,474.5 L459.5,477.4 L460.4,480.3 L461.4,483.1 L462.4,486.0 L463.4,488.9 L464.3,491.8 L465.3,494.7 L466.3,497.6 L467.2,500.5 L468.2,503.3 L469.1,506.2 L470.0,509.1 L471.0,512.0 L471.9,514.9 L472.8,517.8 L473.7,520.7 L474.6,523.6 L475.5,526.5 L476.4,529.5 L477.3,532.4 L478.1,535.3 L479.0,538.2 L479.8,541.1 L480.6,544.0 L481.5,547.0 L482.3,549.9 L483.1,552.8 L483.8,555.8 L484.6,558.7 L485.4,561.6 L486.1,564.6 L486.9,567.5 L487.6,570.5 L488.3,573.4 L489.0,576.4 L489.7,579.3 L490.4,582.3 L491.1,585.3 L491.7,588.2 L492.3,591.2 L493.0,594.2 L493.6,597.1 L494.2,600.1 L494.8,603.1 L495.4,606.1 L495.9,609.0 L496.5,612.0 L497.0,615.0 L497.5,618.0 L498.0,621.0 L498.5,624.0 L499.0,627.0 L499.4,630.0 L499.9,633.0 L500.3,636.0 L500.7,639.0 L501.1,642.0 L501.5,645.0 L501.9,648.0 L502.2,651.0 L502.6,654.0 L502.9,657.1 L503.2,660.1 L503.5,663.1 L503.8,666.1 L504.0,669.2 L504.2,672.2 L504.5,675.2 L504.7,678.3 L504.9,681.3 L505.0,684.3 L505.2,687.4 L505.3,690.4 L505.4,693.5 L505.5,696.5 L505.6,699.5 L505.7,702.6 L505.7,705.6 L505.7,708.7 L505.8,710.7"/>
<path d="M442.5,388.3 L444.2,390.8 L446.0,393.3 L447.7,395.7 L449.5,398.2 L451.3,400.7 L453.0,403.1 L454.8,405.6 L456.6,408.0 L458.4,410.5 L460.2,412.9 L462.0,415.4 L463.8,417.8 L465.6,420.3 L467.4,422.7 L469.2,425.2 L471.0,427.6 L472.8,430.0 L474.6,432.5 L476.4,434.9 L478.2,437.4 L480.0,439.8 L481.8,442.3 L483.6,444.7 L485.4,447.2 L487.2,449.6 L489.0,452.1 L490.7,454.5 L492.5,457.0 L494.2,459.5 L496.0,461.9 L497.7,464.4 L499.5,466.9 L501.2,469.4 L502.9,471.9 L504.6,474.4 L506.3,476.9 L508.0,479.4 L509.6,482.0 L511.3,484.5 L512.9,487.1 L514.5,489.6 L516.1,492.2 L517.7,494.8 L519.3,497.3 L520.9,499.9 L522.4,502.5 L523.9,505.2 L525.4,507.8 L526.9,510.4 L528.4,513.1 L529.9,515.7 L531.3,518.4 L532.8,521.1 L534.2,523.7 L535.7,526.4 L537.1,529.1 L538.5,531.7 L540.0,534.4 L541.4,537.1 L542.9,539.7 L544.4,542.4 L545.9,545.0 L547.4,547.6 L548.9,550.3 L550.3,552.9 L551.8,555.6 L553.3,558.2 L554.8,560.9 L556.2,563.5 L557.7,566.2 L559.1,568.9 L560.5,571.5 L561.9,574.2 L563.3,576.9 L564.6,579.6 L566.0,582.4 L567.3,585.1 L568.5,587.8 L569.8,590.6 L571.0,593.3 L572.2,596.1 L573.4,598.9 L574.5,601.7 L575.7,604.5 L576.7,607.3 L577.8,610.2 L578.8,613.0 L579.8,615.9 L580.7,618.8 L581.6,621.7 L582.5,624.6 L583.3,627.5 L584.1,630.4 L584.8,633.4 L585.6,636.3 L586.2,639.3 L586.9,642.2 L587.5,645.2 L588.1,648.2 L588.6,651.2 L589.1,654.2 L589.6,657.2 L590.0,660.2 L590.4,663.2 L590.8,666.3 L591.1,669.3 L591.4,672.3 L591.6,675.4 L591.9,678.4 L592.0,681.5 L592.2,684.5 L592.3,687.5 L592.3,690.6 L592.4,693.6 L592.3,696.7 L592.3,699.7 L592.2,702.8 L592.1,705.8 L591.9,708.8 L591.7,711.9 L591.5,714.9 L591.2,717.9 L590.9,721.0 L590.6,724.0 L590.2,727.0 L589.7,730.0 L589.3,733.0 L588.8,736.0 L588.2,739.0 L587.7,742.0 L587.0,744.9 L586.4,747.9 L585.7,750.9 L585.0,753.8 L584.2,756.7 L583.4,759.7 L582.5,762.6 L581.6,765.5 L580.7,768.3 L579.8,771.2 L578.7,774.1 L577.7,776.9 L576.6,779.7 L575.5,782.5 L574.3,785.3 L573.1,788.1 L571.9,790.9 L570.6,793.6 L569.3,796.4 L567.9,799.1 L566.5,801.8 L565.1,804.4 L563.6,807.1 L562.7,808.7"/>
<path d="M455.2,388.3 L457.6,390.1 L459.9,391.9 L462.3,393.8 L464.6,395.6 L467.0,397.4 L469.3,399.3 L471.7,401.1 L474.0,403.0 L476.3,404.9 L478.7,406.7 L481.0,408.6 L483.3,410.5 L485.7,412.4 L488.0,414.3 L490.3,416.2 L492.6,418.2 L495.0,420.1 L497.3,422.0 L499.6,424.0 L501.9,425.9 L504.2,427.9 L506.5,429.9 L508.7,431.9 L511.0,433.8 L513.3,435.8 L515.6,437.8 L517.8,439.9 L520.1,441.9 L522.3,443.9 L524.6,446.0 L526.8,448.0 L529.0,450.1 L531.2,452.1 L533.4,454.2 L535.6,456.3 L537.8,458.4 L540.0,460.5 L542.2,462.6 L544.4,464.7 L546.5,466.8 L548.7,468.9 L550.8,471.1 L553.0,473.2 L555.1,475.4 L557.2,477.6 L559.3,479.8 L561.4,481.9 L563.5,484.1 L565.5,486.4 L567.6,488.6 L569.7,490.8 L571.7,493.0 L573.7,495.3 L575.7,497.5 L577.7,499.8 L579.7,502.1 L581.7,504.4 L583.7,506.6 L585.6,508.9 L587.6,511.3 L589.5,513.6 L591.4,515.9 L593.3,518.3 L595.2,520.6 L597.0,523.0 L598.9,525.3 L600.7,527.7 L602.6,530.1 L604.4,532.5 L606.2,534.9 L607.9,537.4 L609.7,539.8 L611.5,542.2 L613.2,544.7 L614.9,547.2 L616.6,549.6 L618.3,552.1 L620.0,554.6 L621.6,557.1 L623.2,559.6 L624.9,562.2 L626.5,564.7 L628.0,567.2 L629.6,569.8 L631.1,572.4 L632.7,575.0 L634.2,577.6 L635.7,580.2 L637.1,582.8 L638.6,585.4 L640.0,588.0 L641.4,590.7 L642.8,593.3 L644.2,596.0 L645.5,598.7 L646.9,601.4 L648.2,604.1 L649.5,606.8 L650.7,609.5 L652.0,612.3 L653.2,615.0 L654.4,617.8 L655.6,620.6 L656.7,623.3 L657.8,626.1 L658.9,628.9 L660.0,631.7 L661.1,634.6 L662.1,637.4 L663.1,640.3 L664.0,643.1 L665.0,646.0 L665.9,648.8 L666.7,651.7 L667.6,654.6 L668.4,657.5 L669.1,660.4 L669.9,663.4 L670.6,666.3 L671.2,669.2 L671.9,672.2 L672.5,675.1 L673.0,678.1 L673.6,681.0 L674.0,684.0 L674.5,687.0 L674.9,690.0 L675.2,693.0 L675.6,696.0 L675.8,699.0 L676.1,702.0 L676.3,705.1 L676.4,708.1 L676.5,711.1 L676.6,714.2 L676.6,717.2 L676.5,720.3 L676.5,723.3 L676.3,726.4 L676.1,729.4 L675.9,732.4 L675.6,735.5 L675.3,738.5 L674.9,741.5 L674.5,744.5 L674.0,747.5 L673.5,750.5 L672.9,753.5 L672.3,756.4 L671.6,759.4 L670.8,762.3 L670.0,765.2 L669.1,768.1 L668.2,770.9 L667.3,773.8 L666.2,776.6 L665.1,779.4 L664.0,782.1 L662.8,784.8 L661.5,787.5 L660.2,790.2 L658.8,792.8 L657.4,795.4 L655.9,798.0 L654.3,800.5 L652.7,803.1 L651.1,805.5 L649.4,808.0 L647.7,810.4 L645.9,812.8 L644.1,815.2 L642.2,817.6 L640.3,819.9 L638.4,822.2 L636.4,824.5 L634.4,826.7 L632.3,828.9 L630.3,831.1 L628.1,833.3 L626.0,835.5 L623.9,837.6 L621.7,839.7 L619.5,841.8 L617.2,843.8 L615.0,845.9 L612.7,847.9 L610.4,849.9 L608.1,851.9 L605.8,853.9 L603.4,855.8 L601.1,857.7 L598.7,859.6 L596.4,861.5 L594.0,863.4 L591.6,865.2 L589.2,867.0 L586.8,868.8 L584.3,870.6 L581.9,872.3 L579.4,874.0 L576.9,875.6 L574.4,877.2 L571.8,878.8 L569.3,880.3 L566.7,881.8 L564.1,883.3 L561.4,884.7 L558.7,886.0 L556.0,887.3 L553.3,888.6 L550.6,889.8 L547.9,891.1 L545.1,892.2 L542.3,893.4 L539.5,894.5 L536.8,895.7 L534.0,896.8 L531.1,897.9 L528.3,898.9 L525.5,900.0 L522.7,901.1 L519.9,902.1 L517.0,903.2 L514.2,904.2 L511.4,905.2 L508.5,906.3 L505.7,907.3 L502.9,908.4 L500.0,909.4 L497.2,910.5 L494.4,911.6 L491.6,912.7 L488.8,913.8 L486.0,914.9 L483.2,916.1 L480.4,917.2 L477.6,918.4 L474.9,919.6 L472.1,920.9 L469.4,922.1 L467.8,922.9"/>
<path d="M221.0,485.0 L218.2,487.9 L215.3,490.9 L212.4,493.8 L209.6,496.8 L206.8,499.7 L203.9,502.6 L201.1,505.6 L198.2,508.5 L195.3,511.4 L192.5,514.4 L189.7,517.3 L186.8,520.2 L184.7,522.4"/>
<path d="M251.6,485.0 L252.7,487.8 L253.8,490.6 L255.0,493.4 L256.1,496.2 L257.3,499.0 L258.4,501.9 L259.6,504.7 L260.7,507.5 L261.9,510.3 L263.1,513.2 L264.3,516.0 L265.5,518.8 L266.8,521.6 L268.0,524.4 L269.3,527.2 L270.5,530.0 L271.8,532.8 L273.1,535.6 L274.4,538.4 L275.8,541.1 L277.1,543.9 L278.5,546.6 L279.9,549.3 L281.4,552.1 L282.8,554.8 L284.3,557.4 L285.8,560.1 L287.3,562.8 L288.9,565.4 L290.4,568.0 L292.0,570.6 L293.7,573.2 L295.3,575.7 L297.0,578.2 L298.7,580.7 L300.5,583.2 L302.3,585.7 L304.1,588.1 L306.0,590.5 L307.9,592.9 L309.8,595.2 L311.8,597.5 L313.8,599.8 L315.8,602.1 L317.9,604.3 L320.0,606.5 L322.2,608.6 L324.4,610.7 L326.6,612.8 L328.9,614.8 L331.2,616.8 L333.6,618.8 L335.4,620.2"/>
<path d="M247.0,485.0 L247.4,488.0 L247.8,491.1 L248.2,494.1 L248.7,497.2 L249.1,500.2 L249.6,503.2 L250.1,506.2 L250.6,509.3 L251.1,512.3 L251.6,515.3 L252.2,518.3 L252.7,521.3 L253.3,524.3 L253.9,527.3 L254.5,530.3 L255.1,533.3 L255.8,536.3 L256.4,539.3 L257.0,542.3 L257.7,545.2 L258.4,548.2 L259.1,551.2 L259.8,554.2 L260.5,557.1 L261.2,560.1 L261.9,563.1 L262.7,566.0 L263.4,569.0 L264.2,571.9 L264.9,574.9 L265.7,577.9 L266.5,580.8 L267.3,583.8 L268.1,586.7 L268.9,589.6 L269.7,592.6 L270.6,595.5 L271.4,598.5 L272.2,601.4 L273.1,604.3 L273.9,607.3 L274.8,610.2 L275.7,613.1 L276.5,616.1 L277.4,619.0 L278.3,621.9 L279.2,624.9 L280.1,627.8 L281.0,630.7 L281.9,633.6 L282.8,636.5 L283.7,639.5 L284.6,642.4 L285.5,645.3 L286.5,648.2 L287.4,651.1 L288.3,654.1 L289.2,657.0 L290.1,659.9 L291.1,662.8 L292.0,665.7 L292.9,668.6 L293.9,671.5 L294.8,674.5 L295.7,677.4 L296.7,680.3 L297.6,683.2 L298.5,686.1 L299.5,689.0 L300.4,691.9 L301.3,694.8 L302.3,697.8 L303.2,700.7 L304.1,703.6 L305.0,706.5 L306.0,709.4 L306.5,711.3"/>
<path d="M273.7,485.0 L380.4,580.0 L382.7,582.1 L384.9,584.1 L387.2,586.2 L389.4,588.3 L391.6,590.4 L393.8,592.5 L396.0,594.6 L398.2,596.7 L400.4,598.8 L402.5,601.0 L404.7,603.2 L406.8,605.3 L409.0,607.5 L411.1,609.7 L413.2,611.9 L415.3,614.2 L417.3,616.4 L419.4,618.6 L421.4,620.9 L423.5,623.2 L425.5,625.5 L427.5,627.8 L429.5,630.1 L431.4,632.4 L433.4,634.8 L435.3,637.1 L437.3,639.5 L439.2,641.8 L441.1,644.2 L442.9,646.6 L444.8,649.1 L446.6,651.5 L448.4,653.9 L450.3,656.4 L452.0,658.9 L453.8,661.3 L455.6,663.8 L457.3,666.3 L459.0,668.9 L460.7,671.4 L462.4,674.0 L464.0,676.5 L465.7,679.1 L467.3,681.7 L468.9,684.3 L470.5,686.9 L472.1,689.5 L473.7,692.1 L475.2,694.7 L476.7,697.4 L478.3,700.0 L479.8,702.7 L481.3,705.3 L482.8,708.0 L484.3,710.7 L485.2,712.3"/>
<path d="M240.0,485.0 L239.6,488.0 L239.2,491.0 L238.8,494.0 L238.4,497.0 L237.9,500.0 L237.5,502.9 L237.1,505.9 L236.7,508.9 L236.3,511.9 L235.9,514.9 L235.4,517.9 L235.0,520.9 L234.6,523.9 L234.2,526.9 L233.8,529.9 L233.4,532.9 L233.0,535.9 L232.6,538.9 L232.3,541.9 L231.9,544.9 L231.5,547.9 L231.2,550.9 L230.8,553.9 L230.5,556.9 L230.1,559.9 L229.8,562.9 L229.5,565.9 L229.2,569.0 L228.9,572.0 L228.6,575.0 L228.3,578.0 L228.1,581.0 L227.8,584.0 L227.6,587.0 L227.4,590.0 L227.1,593.0 L227.0,596.1 L226.8,599.1 L226.6,602.1 L226.5,605.1 L226.3,608.1 L226.2,611.1 L226.1,614.1 L226.0,617.2 L225.9,620.2 L225.8,623.2 L225.7,626.2 L225.6,629.2 L225.5,632.3 L225.5,635.3 L225.4,638.3 L225.4,641.3 L225.3,644.3 L225.3,647.4 L225.3,650.4 L225.2,653.4 L225.2,656.4 L225.2,659.5 L225.2,662.5 L225.2,665.5 L225.1,668.5 L225.1,671.5 L225.1,674.6 L225.1,677.6 L225.0,680.6 L225.0,683.6 L225.0,686.7 L225.0,689.7 L224.9,692.7 L224.9,695.7 L224.8,698.8 L224.8,701.8 L224.8,704.8 L224.7,707.8 L224.7,710.9 L224.7,713.9 L224.6,716.9 L224.6,720.0 L224.6,723.0 L224.7,726.0 L224.7,729.0 L224.8,732.1 L224.8,735.1 L224.9,738.1 L225.1,741.1 L225.2,744.2 L225.4,747.2 L225.6,750.2 L225.9,753.2 L226.1,756.3 L226.5,759.3 L226.8,762.3 L227.2,765.3 L227.7,768.3 L228.2,771.3 L228.7,774.3 L229.3,777.2 L230.0,780.2 L230.7,783.1 L231.5,786.0 L232.4,788.9 L233.3,791.8 L234.3,794.6 L235.3,797.5 L236.5,800.3 L237.6,803.0 L238.9,805.8 L240.2,808.5 L241.5,811.2 L242.9,813.9 L244.4,816.5 L246.0,819.1 L247.5,821.6 L249.2,824.1 L250.9,826.6 L252.7,829.1 L254.5,831.5 L256.4,833.8 L258.3,836.1 L260.2,838.4 L262.3,840.7 L264.3,842.9 L266.4,845.1 L268.6,847.2 L270.7,849.3 L272.9,851.4 L275.2,853.5 L277.5,855.5 L279.8,857.5 L282.1,859.4 L284.5,861.3 L286.9,863.2 L289.3,865.1 L291.8,866.9 L294.2,868.7 L296.7,870.5 L299.2,872.2 L301.7,873.9 L304.2,875.6 L306.8,877.3 L309.3,878.9 L311.9,880.5 L314.4,882.1 L317.0,883.7 L319.6,885.3 L322.2,886.8 L324.8,888.3 L327.4,889.9 L330.0,891.4 L332.6,892.9 L335.3,894.3 L337.9,895.8 L340.5,897.3 L343.2,898.8 L345.8,900.2 L348.4,901.7 L351.1,903.2 L353.7,904.6 L356.3,906.1 L359.0,907.6 L361.6,909.1 L364.2,910.6 L366.8,912.1 L369.4,913.6 L372.1,915.1 L373.6,916.0"/>
<path d="M200.0,577.0 L206.3,579.7 L212.8,582.5 L219.4,585.3 L226.0,588.1 L232.7,591.0 L239.4,593.9 L246.0,596.7 L252.7,599.6 L259.2,602.4 L265.6,605.1 L271.9,607.8 L278.0,610.4 L283.9,612.9 L289.5,615.2 L294.9,617.4 L300.0,619.5 L303.1,620.7 L306.1,621.9 L308.9,623.0 L311.7,624.1 L314.3,625.1 L316.9,626.1 L319.5,627.1 L321.9,628.0 L324.4,629.0 L326.8,629.9 L329.2,630.8"/>
<path d="M150.6,580.0 L150.5,583.0 L150.4,585.9 L150.3,588.9 L150.2,591.9 L150.1,594.9 L150.0,597.9 L149.9,600.9 L149.8,603.9 L149.8,606.9 L149.7,609.9 L149.6,612.9 L149.6,615.9 L149.6,619.0 L149.5,622.0 L149.5,625.0 L149.5,628.1 L149.5,631.1 L149.6,634.2 L149.6,637.2 L149.6,640.3 L149.7,643.4 L149.7,646.4 L149.8,649.5 L149.9,652.6 L150.0,655.6 L150.1,658.7 L150.2,661.8 L150.4,664.8 L150.5,667.9 L150.7,671.0 L150.9,674.0 L151.1,677.1 L151.3,680.2 L151.5,683.2 L151.8,686.3 L152.1,689.4 L152.4,692.4 L152.7,695.5 L153.0,698.5 L153.3,701.6 L153.7,704.6 L154.0,707.7 L154.4,710.7 L154.9,713.8 L155.3,716.8 L155.7,719.8 L156.2,722.9 L156.7,725.9 L157.2,728.9 L157.8,731.9 L158.3,734.9 L158.9,737.9 L159.5,740.9 L160.2,743.9 L160.8,746.8 L161.5,749.8 L162.2,752.8 L162.9,755.7 L163.7,758.6 L164.5,761.6 L165.3,764.5 L166.1,767.4 L166.9,770.3 L167.8,773.2 L168.7,776.1 L169.7,779.0 L170.6,781.8 L171.6,784.7 L172.7,787.5 L173.7,790.4 L174.8,793.2 L175.9,796.0 L177.0,798.8 L178.2,801.6 L179.4,804.3 L180.6,807.1 L181.9,809.8 L183.2,812.6 L184.5,815.3 L185.8,818.0 L187.2,820.7 L188.6,823.3 L190.1,826.0 L191.6,828.6 L193.1,831.2 L194.7,833.8 L196.2,836.4 L197.9,839.0 L199.5,841.5 L201.2,844.0 L202.9,846.5 L204.7,849.0 L206.5,851.4 L208.3,853.9 L210.1,856.2 L212.0,858.6 L214.0,860.9 L215.9,863.2 L217.9,865.5 L219.9,867.7 L222.0,870.0 L224.1,872.1 L226.2,874.3 L228.4,876.4 L230.6,878.4 L232.8,880.5 L235.1,882.5 L237.4,884.4 L239.7,886.3 L242.1,888.2 L244.5,890.1 L246.9,891.9 L249.4,893.6 L251.9,895.4 L254.4,897.1 L256.9,898.7 L259.5,900.3 L262.1,901.9 L264.7,903.4 L267.3,904.9 L270.0,906.4 L272.7,907.8 L275.4,909.2 L278.2,910.5 L280.9,911.8 L283.7,913.1 L286.5,914.3 L289.3,915.5 L292.2,916.7 L295.0,917.8 L297.9,918.9 L300.8,919.9 L303.7,920.9 L306.6,921.9 L309.5,922.9 L312.5,923.8 L315.4,924.7 L318.4,925.5 L321.3,926.3 L324.3,927.1 L327.3,927.9 L330.3,928.6 L333.3,929.3 L336.3,929.9 L339.3,930.6 L342.3,931.2 L345.3,931.7 L348.3,932.3 L351.3,932.8 L354.3,933.3 L357.3,933.7 L360.3,934.1 L363.3,934.5 L366.3,934.9 L369.3,935.3 L370.9,935.4"/>
<path d="M362.8,676.0 L360.9,679.0 L359.1,682.0 L357.2,685.0 L355.4,688.0 L353.5,691.0 L351.6,694.0 L349.8,697.0 L347.9,700.0 L346.0,703.0 L344.2,706.0 L342.3,709.0 L340.4,712.0 L340.0,712.7"/>
<path d="M409.3,676.0 L411.2,677.4 L413.1,678.7 L415.0,680.1 L416.9,681.4 L418.8,682.8 L420.8,684.1 L422.7,685.5 L424.6,686.9 L426.5,688.2 L428.4,689.6 L430.3,691.0 L432.2,692.3 L434.2,693.7 L436.1,695.1 L438.0,696.6 L440.0,698.0 L442.1,699.6 L444.2,701.1 L446.3,702.7 L448.5,704.3 L450.6,705.9 L452.7,707.6 L454.9,709.2 L457.1,710.8 L459.2,712.5 L461.4,714.1 L463.5,715.8 L463.7,715.9"/>
<path d="M390.7,676.0 L392.3,678.6 L394.0,681.2 L395.6,683.8 L397.2,686.4 L398.9,689.0 L400.5,691.6 L402.1,694.2 L403.8,696.8 L405.4,699.4 L407.1,702.0 L408.7,704.6 L410.4,707.2 L412.1,709.8 L413.8,712.3 L415.4,714.9 L417.1,717.5 L418.8,720.1 L420.5,722.6 L422.2,725.2 L424.0,727.8 L425.7,730.3 L427.5,732.8 L429.2,735.4 L431.0,737.9 L432.8,740.4 L434.6,742.9 L436.4,745.4 L438.2,747.9 L440.0,750.3 L441.9,752.8 L443.7,755.2 L445.6,757.6 L447.5,760.1 L449.4,762.5 L451.3,764.8 L453.3,767.2 L455.2,769.6 L457.2,771.9 L459.2,774.2 L461.2,776.5 L463.3,778.8 L465.3,781.1 L467.4,783.3 L469.5,785.6 L471.6,787.8 L473.8,790.0 L476.0,792.1 L478.1,794.3 L480.4,796.4 L482.6,798.5 L484.9,800.6 L487.2,802.6 L489.5,804.7 L491.8,806.7 L494.2,808.7 L496.6,810.6 L498.3,812.0"/>
<path d="M380.5,676.0 L381.0,679.0 L381.5,682.1 L382.0,685.1 L382.4,688.1 L382.9,691.2 L383.4,694.2 L383.9,697.2 L384.3,700.3 L384.8,703.3 L385.3,706.3 L385.8,709.4 L386.2,712.4 L386.7,715.4 L387.2,718.5 L387.6,721.5 L388.1,724.6 L388.6,727.6 L389.0,730.6 L389.5,733.7 L390.0,736.7 L390.4,739.7 L390.9,742.8 L391.3,745.8 L391.8,748.8 L392.3,751.9 L392.7,754.9 L393.2,758.0 L393.6,761.0 L394.1,764.0 L394.5,767.1 L395.0,770.1 L395.4,773.2 L395.9,776.2 L396.3,779.2 L396.8,782.3 L397.2,785.3 L397.7,788.3 L398.1,791.4 L398.6,794.4 L399.0,797.5 L399.5,800.5 L399.9,803.5 L400.4,806.6 L400.8,809.6 L401.3,812.7 L401.7,815.7 L402.2,818.7 L402.6,821.8 L403.1,824.8 L403.5,827.9 L404.0,830.9 L404.4,833.9 L404.9,837.0 L405.3,840.0 L405.7,843.1 L406.2,846.1 L406.6,849.1 L407.1,852.2 L407.5,855.2 L408.0,858.3 L408.4,861.3 L408.9,864.3 L409.3,867.4 L409.8,870.4 L410.2,873.4 L410.7,876.5 L411.1,879.5 L411.6,882.6 L412.0,885.6 L412.4,888.6 L412.9,891.7 L413.3,894.7 L413.8,897.8 L414.2,900.8 L414.5,902.8"/>
<path d="M354.8,765.0 L360.2,767.2 L365.7,769.5 L371.4,771.9 L377.1,774.2 L382.9,776.6 L388.7,779.0 L394.4,781.3 L400.1,783.7 L405.8,786.0 L411.3,788.3 L416.6,790.5 L421.8,792.7 L426.7,794.7 L431.4,796.7 L435.9,798.6 L440.0,800.4 L442.3,801.4 L444.5,802.4 L446.6,803.3 L448.6,804.2 L450.5,805.1 L452.3,806.0 L454.1,806.8 L455.9,807.7 L457.6,808.5 L459.3,809.3 L461.0,810.1 L462.7,810.8 L464.5,811.6 L466.3,812.4 L468.1,813.2 L470.0,814.0 L472.0,814.8 L474.0,815.6 L476.0,816.4 L478.1,817.2 L480.1,818.0 L482.2,818.7 L484.2,819.5 L486.3,820.3 L488.3,821.0 L490.3,821.7"/>
<path d="M331.0,772.0 L333.2,776.2 L335.5,780.5 L337.7,784.7 L339.9,788.9 L342.2,793.1 L344.4,797.3 L346.6,801.6 L348.8,805.8 L351.1,810.0 L353.3,814.2 L355.6,818.5 L357.8,822.7 L360.1,827.0 L362.4,831.3 L364.7,835.7 L367.0,840.0 L369.5,844.6 L372.0,849.3 L374.5,854.0 L377.0,858.7 L379.6,863.4 L382.2,868.2 L384.7,873.0 L387.3,877.7 L389.9,882.5 L392.5,887.3 L395.1,892.1 L397.7,896.9 L400.3,901.7 L401.7,904.3"/>
<path d="M513.7,772.0 L514.7,775.0 L515.8,778.0 L516.8,781.0 L517.8,784.0 L518.9,787.0 L519.9,790.0 L520.9,793.0 L522.0,796.0 L523.0,799.0 L524.0,802.0 L525.0,805.0 L525.9,807.4"/>
<path d="M494.6,772.0 L493.0,775.5 L491.4,779.1 L489.7,782.8 L488.0,786.5 L486.3,790.3 L484.6,794.1 L482.8,797.9 L481.1,801.7 L479.5,805.3 L477.9,808.9 L476.3,812.3 L474.9,815.6 L473.5,818.7 L472.2,821.6 L471.0,824.3 L470.0,826.7 L469.6,827.8 L469.2,828.7 L468.8,829.6 L468.5,830.4 L468.2,831.1 L467.9,831.9 L467.7,832.6 L467.4,833.2 L467.1,833.9 L466.9,834.6 L466.6,835.4 L466.3,836.1 L466.0,837.0 L465.6,837.9 L465.2,838.9 L464.7,840.0 L463.4,843.0 L461.9,846.5 L460.2,850.4 L458.3,854.6 L456.2,859.2 L454.1,864.0 L451.8,869.0 L449.5,874.1 L447.1,879.4 L444.7,884.8 L442.2,890.2 L439.8,895.5 L437.3,900.9 L436.0,903.9"/>
<path d="M508.6,868.0 L506.1,870.0 L503.6,872.1 L501.0,874.2 L498.5,876.3 L495.9,878.4 L493.3,880.5 L490.7,882.6 L488.1,884.7 L485.6,886.8 L483.1,888.8 L480.6,890.8 L478.2,892.8 L475.8,894.7 L473.5,896.5 L471.3,898.3 L469.2,900.0 L467.7,901.2 L466.3,902.3 L464.9,903.4 L463.6,904.4 L462.3,905.4 L461.0,906.4 L459.7,907.4 L459.1,907.9"/>
</g>
<g fill="#000" stroke="#000" stroke-width="1.33">
<polygon points="343.1,134.5 339.0,148.0 350.6,140.0"/>
<polygon points="385.8,113.5 389.8,100.0 378.2,108.1"/>
<polygon points="403.1,113.3 398.4,100.0 393.7,113.3"/>
<polygon points="439.0,326.3 435.5,340.0 446.8,331.5"/>
<polygon points="233.2,423.6 240.0,436.0 242.4,422.1"/>
<polygon points="147.0,519.0 152.5,532.0 156.3,518.4"/>
<polygon points="269.1,745.4 283.0,742.8 270.5,736.2"/>
<polygon points="422.8,620.3 413.6,631.0 427.5,628.4"/>
<polygon points="544.4,712.3 536.6,724.0 550.1,719.7"/>
<polygon points="575.8,806.1 569.0,818.5 582.0,813.1"/>
<polygon points="468.5,929.0 456.0,935.5 469.9,938.2"/>
<polygon points="362.9,235.9 374.5,244.0 370.5,230.5"/>
<polygon points="367.9,202.8 355.5,196.0 360.9,209.1"/>
<polygon points="370.6,335.5 384.0,340.0 376.4,328.1"/>
<polygon points="362.1,616.0 369.6,628.0 371.2,614.0"/>
<polygon points="237.9,422.6 242.5,436.0 247.3,422.7"/>
<polygon points="150.8,518.3 154.4,532.0 160.1,519.1"/>
<polygon points="268.9,730.9 283.0,731.7 272.5,722.3"/>
<polygon points="370.7,941.3 384.2,937.3 371.1,932.0"/>
<polygon points="509.5,710.2 512.4,724.0 518.7,711.4"/>
<polygon points="542.8,806.0 544.5,820.0 552.0,808.0"/>
<polygon points="406.7,327.9 414.0,340.0 415.9,326.0"/>
<polygon points="261.0,422.2 258.0,436.0 268.9,427.1"/>
<polygon points="156.3,518.0 158.0,532.0 165.4,520.0"/>
<polygon points="313.0,710.6 317.5,724.0 322.3,710.7"/>
<polygon points="367.7,615.2 373.7,628.0 377.0,614.3"/>
<polygon points="497.8,710.9 503.0,724.0 507.1,710.5"/>
<polygon points="565.6,807.3 559.4,820.0 572.2,814.0"/>
<polygon points="468.4,925.3 456.0,932.0 469.9,934.5"/>
<polygon points="289.9,428.7 280.2,439.0 294.2,437.0"/>
<polygon points="377.5,614.2 380.5,628.0 386.7,615.3"/>
<polygon points="364.5,723.2 354.6,733.3 368.6,731.6"/>
<polygon points="501.1,710.6 505.6,724.0 510.4,710.7"/>
<polygon points="558.7,806.2 555.6,820.0 566.6,811.2"/>
<polygon points="465.7,918.7 456.0,929.0 470.0,927.0"/>
<polygon points="181.3,519.2 175.4,532.0 188.0,525.7"/>
<polygon points="332.7,624.0 346.2,628.0 338.1,616.4"/>
<polygon points="302.1,712.7 310.5,724.0 311.0,709.9"/>
<polygon points="481.2,714.6 491.7,724.0 489.3,710.1"/>
<polygon points="371.2,920.0 385.0,923.0 376.1,912.1"/>
<polygon points="327.6,635.2 341.7,635.5 330.9,626.4"/>
<polygon points="370.5,940.1 384.2,936.6 371.3,930.8"/>
<polygon points="336.1,710.2 333.0,724.0 344.0,715.1"/>
<polygon points="460.9,719.6 474.3,724.0 466.5,712.2"/>
<polygon points="495.5,815.7 509.0,820.0 501.1,808.3"/>
<polygon points="409.9,903.5 416.5,916.0 419.2,902.1"/>
<polygon points="488.7,826.1 502.8,826.3 491.9,817.3"/>
<polygon points="397.6,906.5 408.0,916.0 405.8,902.1"/>
<polygon points="521.5,808.9 530.2,820.0 530.3,805.9"/>
<polygon points="431.7,901.9 430.5,916.0 440.2,905.8"/>
<polygon points="456.2,904.2 448.5,916.0 461.9,911.6"/>
</g>
<text class="l" x="355.7" y="140.6">5</text>
<text class="l" x="372.0" y="114.3" textLength="16">13</text>
<text class="l" x="389.8" y="122.8" textLength="16">10</text>
<text class="l" x="452.3" y="331.7" textLength="16">19</text>
<text class="l" x="368.4" y="228.0">1</text>
<text class="l" x="358.8" y="218.6">6</text>
<text class="l" x="374.5" y="324.8">2</text>
<text class="l" x="417.7" y="324.1">1</text>
<text class="l" x="243.2" y="420.6" textLength="16">26</text>
<text class="l" x="249.6" y="420.8">5</text>
<text class="l" x="273.7" y="427.3">7</text>
<text class="l" x="300.0" y="442.3">1</text>
<text class="l" x="158.2" y="517.8">3</text>
<text class="l" x="163.2" y="518.9">3</text>
<text class="l" x="169.7" y="519.7">3</text>
<text class="l" x="193.7" y="528.1">8</text>
<text class="l" x="336.8" y="613.3" textLength="16">24</text>
<text class="l" x="327.2" y="624.3">3</text>
<text class="l" x="373.0" y="611.3">4</text>
<text class="l" x="378.8" y="612.3">1</text>
<text class="l" x="391.5" y="613.8" textLength="16">26</text>
<text class="l" x="432.6" y="632.9" textLength="16">37</text>
<text class="l" x="268.8" y="719.6" textLength="16">10</text>
<text class="l" x="265.0" y="735.6" textLength="16">21</text>
<text class="l" x="312.0" y="707.3">4</text>
<text class="l" x="324.6" y="709.3">1</text>
<text class="l" x="348.8" y="716.0">3</text>
<text class="l" x="373.7" y="736.6">9</text>
<text class="l" x="463.6" y="709.9">6</text>
<text class="l" x="488.8" y="708.1">2</text>
<text class="l" x="508.0" y="708.1">4</text>
<text class="l" x="512.4" y="708.9">5</text>
<text class="l" x="521.3" y="711.3">1</text>
<text class="l" x="554.9" y="722.6">3</text>
<text class="l" x="499.0" y="805.3" textLength="16">14</text>
<text class="l" x="488.3" y="816.1">6</text>
<text class="l" x="532.0" y="803.3">2</text>
<text class="l" x="555.6" y="807.3" textLength="16">14</text>
<text class="l" x="572.0" y="811.3" textLength="16">16</text>
<text class="l" x="578.0" y="817.1">6</text>
<text class="l" x="586.9" y="817.9" textLength="16">66</text>
<text class="l" x="371.0" y="910.9" textLength="16">13</text>
<text class="l" x="366.5" y="928.9">5</text>
<text class="l" x="364.8" y="932.8" textLength="16">27</text>
<text class="l" x="406.0" y="899.3" textLength="16">19</text>
<text class="l" x="422.0" y="899.8" textLength="16">37</text>
<text class="l" x="444.9" y="906.3" textLength="16">37</text>
<text class="l" x="467.7" y="915.3" textLength="16">42</text>
<text class="l" x="474.7" y="935.3" textLength="16">36</text>
<text class="l" x="472.0" y="940.3">8</text>
<text class="l" x="474.7" y="945.3" textLength="16">39</text>
</svg></body></html>
